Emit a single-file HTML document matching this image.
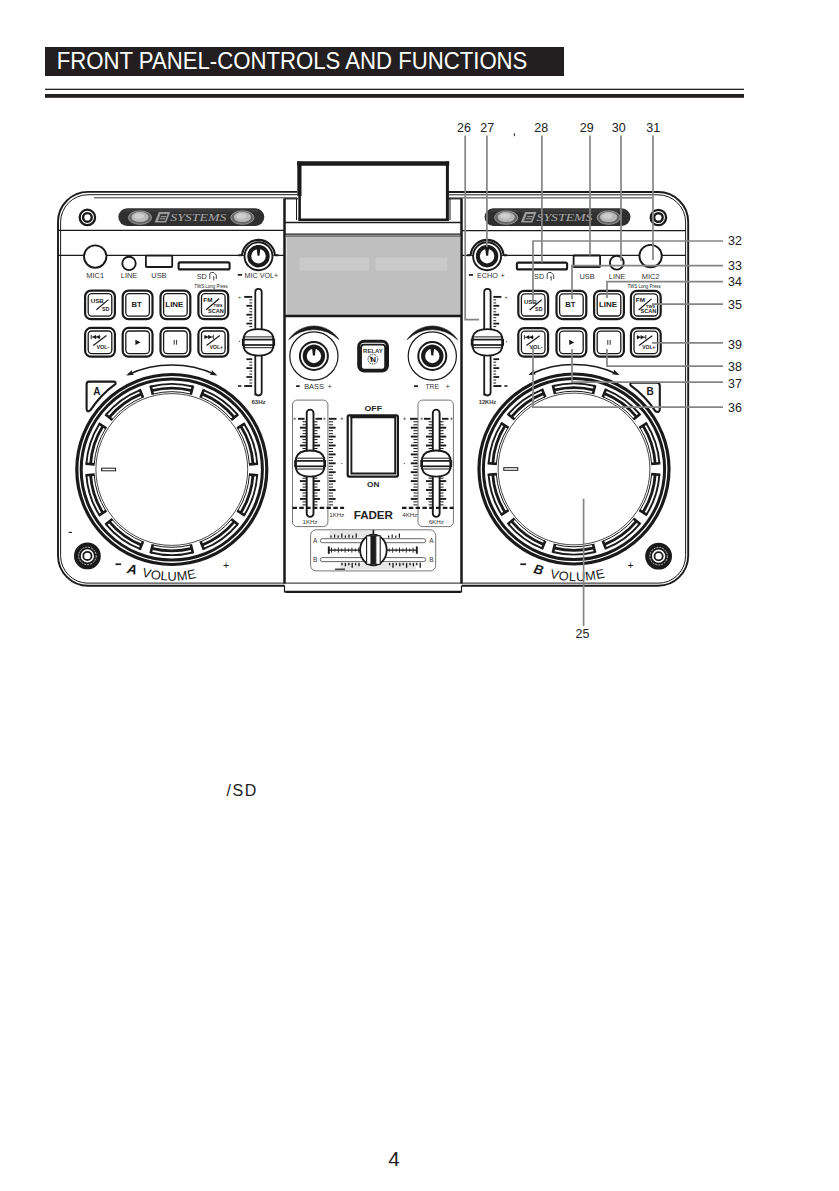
<!DOCTYPE html>
<html><head><meta charset="utf-8"><style>
html,body{margin:0;padding:0;background:#fff;}
svg{display:block;font-family:"Liberation Sans",sans-serif;}
</style></head><body>
<svg width="839" height="1191" viewBox="0 0 839 1191">
<rect x="0" y="0" width="839" height="1191" fill="#fff"/>
<rect x="45" y="47" width="519" height="29" fill="#231f20"/>
<text x="56.8" y="69.2" font-family="Liberation Sans" font-size="23.4" font-weight="normal" font-style="normal" text-anchor="start" fill="#fff" textLength="470.6" lengthAdjust="spacingAndGlyphs">FRONT PANEL-CONTROLS AND FUNCTIONS</text>
<rect x="45" y="88.7" width="699" height="1.3" fill="#231f20"/>
<rect x="45" y="94" width="699" height="3.8" fill="#231f20"/>
<path d="M297 191.9 H88 A30 30 0 0 0 58 222 V555.5 A30.3 30.3 0 0 0 88 585.8 H284.5" fill="none" stroke="#1a1a1a" stroke-width="1.9"/>
<path d="M297 194.7 H88 A27.5 27.5 0 0 0 60.6 222 V555.5 A27.5 27.5 0 0 0 88 583.2" fill="none" stroke="#1a1a1a" stroke-width="1.0"/>
<line x1="94" y1="197.8" x2="297" y2="197.8" stroke="#1a1a1a" stroke-width="0.9" />
<path d="M448 192 H658 A30 30 0 0 1 688.2 222 V555.5 A30.3 30.3 0 0 1 658 585.8 H462" fill="none" stroke="#1a1a1a" stroke-width="1.9"/>
<path d="M448 194.8 H658 A27.5 27.5 0 0 1 685.6 222 V555.5 A27.5 27.5 0 0 1 658 583.2" fill="none" stroke="#1a1a1a" stroke-width="1.0"/>
<line x1="448" y1="197.9" x2="652" y2="197.9" stroke="#1a1a1a" stroke-width="0.9" />
<line x1="58" y1="230.4" x2="284.5" y2="230.4" stroke="#1a1a1a" stroke-width="1.3" />
<line x1="58" y1="255.4" x2="284.5" y2="255.4" stroke="#1a1a1a" stroke-width="1.3" />
<line x1="462" y1="230.6" x2="686" y2="230.6" stroke="#1a1a1a" stroke-width="1.3" />
<line x1="462" y1="255.4" x2="686" y2="255.4" stroke="#1a1a1a" stroke-width="1.3" />
<rect x="299" y="162" width="149" height="58" fill="#fff"/>
<line x1="297.2" y1="163.5" x2="449.2" y2="163.5" stroke="#1a1a1a" stroke-width="4.3" />
<line x1="299.4" y1="161.6" x2="299.4" y2="196" stroke="#1a1a1a" stroke-width="4.2" />
<line x1="299.6" y1="195" x2="299.6" y2="220.5" stroke="#1a1a1a" stroke-width="2.6" />
<line x1="447.4" y1="161.6" x2="447.4" y2="220.5" stroke="#1a1a1a" stroke-width="3.0" />
<line x1="298.5" y1="219.8" x2="448.8" y2="219.8" stroke="#1a1a1a" stroke-width="2.6" />
<path d="M284.5 198.6 V583.5 M461.5 198.6 V583.5" fill="none" stroke="#1a1a1a" stroke-width="2.5"/>
<path d="M284.5 585.5 V591.8 H461.5 V585.5" fill="none" stroke="#1a1a1a" stroke-width="1.2"/>
<line x1="285.5" y1="591.8" x2="460.8" y2="591.8" stroke="#1a1a1a" stroke-width="2.3" />
<line x1="88" y1="583.1" x2="658" y2="583.1" stroke="#1a1a1a" stroke-width="1.0" />
<line x1="284.5" y1="198.8" x2="298" y2="198.8" stroke="#1a1a1a" stroke-width="1.2" />
<line x1="448" y1="198.8" x2="462" y2="198.8" stroke="#1a1a1a" stroke-width="1.2" />
<line x1="296.5" y1="198.8" x2="296.5" y2="220" stroke="#1a1a1a" stroke-width="1.0" />
<line x1="450" y1="198.8" x2="450" y2="220" stroke="#1a1a1a" stroke-width="1.0" />
<line x1="284.5" y1="222.5" x2="462" y2="222.5" stroke="#1a1a1a" stroke-width="1.3" />
<line x1="284.5" y1="234.2" x2="462" y2="234.2" stroke="#1a1a1a" stroke-width="1.3" />
<rect x="286.5" y="236.5" width="173.7" height="78.5" fill="#c0bfbf"/>
<rect x="299.5" y="257.6" width="69.5" height="13" fill="#cbcaca"/>
<rect x="375.6" y="257.6" width="71.6" height="13" fill="#cbcaca"/>
<line x1="284.5" y1="316" x2="462" y2="316" stroke="#1a1a1a" stroke-width="2.4" />
<line x1="286" y1="236" x2="460.5" y2="236" stroke="#1a1a1a" stroke-width="1.0" />
<rect x="118.3" y="208.3" width="146" height="17.6" rx="8.8" fill="#2f2f2f"/>
<rect x="124.3" y="209.3" width="134" height="3" rx="1.5" fill="#3a3a3a"/>
<ellipse cx="140.0" cy="217.60000000000002" rx="11.6" ry="6.7" fill="#666" stroke="#9c9c9c" stroke-width="0.9"/>
<ellipse cx="140.0" cy="217.10000000000002" rx="8.6" ry="5.0" fill="#b8b8b8"/>
<ellipse cx="139.0" cy="216.10000000000002" rx="5" ry="2.6" fill="#cfcfcf"/>
<ellipse cx="242.4" cy="217.60000000000002" rx="11.6" ry="6.7" fill="#666" stroke="#9c9c9c" stroke-width="0.9"/>
<ellipse cx="242.4" cy="217.10000000000002" rx="8.6" ry="5.0" fill="#b8b8b8"/>
<ellipse cx="241.4" cy="216.10000000000002" rx="5" ry="2.6" fill="#cfcfcf"/>
<path d="M154.6 222.60000000000002 L158.8 212.10000000000002 H170.3 L166.1 222.60000000000002 Z" fill="#9a9a9a"/>
<path d="M157.9 220.9 L160.5 213.9 H167.6 L165.0 220.9 Z" fill="#3a3a3a"/>
<path d="M160.9 216.5 H166.3 M159.9 218.70000000000002 H165.3" stroke="#9a9a9a" stroke-width="1"/>
<text x="170.3" y="221.0" font-family="Liberation Serif" font-size="9.8" font-style="italic" fill="#a8a8a8" textLength="56" lengthAdjust="spacingAndGlyphs">SYSTEMS</text>
<circle cx="87.4" cy="217.4" r="7.7" fill="none" stroke="#1a1a1a" stroke-width="2.3"/>
<circle cx="87.4" cy="217.4" r="4.3" fill="none" stroke="#1a1a1a" stroke-width="2.4"/>
<circle cx="95.2" cy="256.6" r="11.2" fill="#fff" stroke="#1a1a1a" stroke-width="1.9"/>
<circle cx="129" cy="263.4" r="6.7" fill="#fff" stroke="#1a1a1a" stroke-width="1.9"/>
<rect x="145.9" y="255.6" width="26.3" height="11.4" rx="0.8" fill="#fff" stroke="#1a1a1a" stroke-width="1.8" />
<rect x="178.6" y="262.4" width="51" height="7.0" rx="1.5" fill="#fff" stroke="#1a1a1a" stroke-width="2.1" />
<path d="M238.5 255.2 H241.5 Q242.1 255.2 242.3 253.7 A16.4 16.4 0 0 1 274.7 253.7 Q274.9 255.2 275.5 255.2 H278.5" fill="#fff" stroke="#1a1a1a" stroke-width="2.1"/>
<circle cx="258.5" cy="256.2" r="14" fill="#fff" stroke="#1a1a1a" stroke-width="1.9"/>
<circle cx="258.5" cy="256.2" r="9.2" fill="none" stroke="#1a1a1a" stroke-width="4.0"/>
<path d="M256.2 244.89999999999998 H260.8 L259.5 255.7 H257.5 Z" fill="#1a1a1a"/>
<text x="95.2" y="278" font-family="Liberation Sans" font-size="7.4" font-weight="normal" font-style="normal" text-anchor="middle" fill="#333" >MIC1</text>
<text x="129" y="278" font-family="Liberation Sans" font-size="7.4" font-weight="normal" font-style="normal" text-anchor="middle" fill="#333" >LINE</text>
<text x="158.9" y="278" font-family="Liberation Sans" font-size="7.4" font-weight="normal" font-style="normal" text-anchor="middle" fill="#333" >USB</text>
<text x="196.7" y="278.9" font-family="Liberation Sans" font-size="7.2" font-weight="normal" font-style="normal" text-anchor="start" fill="#333" textLength="10.1" lengthAdjust="spacingAndGlyphs">SD</text>
<path d="M209.8 279 V273.5 L211.3 272.5 H213.8 L216.3 275 V279 M212.8 277.3 L213.8 276.6 V280.5" fill="none" stroke="#333" stroke-width="0.9"/>
<rect x="237.8" y="274" width="4.2" height="1.7" fill="#1a1a1a"/>
<text x="244.5" y="277.8" font-family="Liberation Sans" font-size="7.2" font-weight="normal" font-style="normal" text-anchor="start" fill="#333" textLength="33.8" lengthAdjust="spacingAndGlyphs">MIC VOL+</text>
<text x="194.3" y="287.6" font-family="Liberation Sans" font-size="4.5" font-weight="normal" font-style="normal" text-anchor="start" fill="#222" textLength="33.5" lengthAdjust="spacingAndGlyphs">TWS Long Press</text>
<rect x="85.1" y="290.6" width="29.8" height="28.6" rx="6" fill="#fff" stroke="#1a1a1a" stroke-width="2.2" />
<rect x="88.2" y="293.7" width="23.6" height="22.4" rx="3.5" fill="none" stroke="#1a1a1a" stroke-width="1.3" />
<text x="90.8" y="303.4" font-family="Liberation Sans" font-size="5.8" font-weight="bold" font-style="normal" text-anchor="start" fill="#222" textLength="13" lengthAdjust="spacingAndGlyphs">USB</text>
<line x1="96.4" y1="309.8" x2="108.4" y2="299.6" stroke="#1a1a1a" stroke-width="1.2" />
<text x="101.9" y="310.8" font-family="Liberation Sans" font-size="5.8" font-weight="bold" font-style="normal" text-anchor="start" fill="#222" textLength="7.4" lengthAdjust="spacingAndGlyphs">SD</text>
<rect x="122.69999999999999" y="290.6" width="29.8" height="28.6" rx="6" fill="#fff" stroke="#1a1a1a" stroke-width="2.2" />
<rect x="125.8" y="293.7" width="23.6" height="22.4" rx="3.5" fill="none" stroke="#1a1a1a" stroke-width="1.3" />
<text x="131.4" y="307.1" font-family="Liberation Sans" font-size="6.4" font-weight="bold" font-style="normal" text-anchor="start" fill="#222" textLength="10.2" lengthAdjust="spacingAndGlyphs">BT</text>
<rect x="160.5" y="290.6" width="29.8" height="28.6" rx="6" fill="#fff" stroke="#1a1a1a" stroke-width="2.2" />
<rect x="163.6" y="293.7" width="23.6" height="22.4" rx="3.5" fill="none" stroke="#1a1a1a" stroke-width="1.3" />
<text x="165.3" y="307.1" font-family="Liberation Sans" font-size="6.4" font-weight="bold" font-style="normal" text-anchor="start" fill="#222" textLength="18.1" lengthAdjust="spacingAndGlyphs">LINE</text>
<rect x="198.4" y="290.6" width="29.8" height="28.6" rx="6" fill="#fff" stroke="#1a1a1a" stroke-width="2.2" />
<rect x="201.5" y="293.7" width="23.6" height="22.4" rx="3.5" fill="none" stroke="#1a1a1a" stroke-width="1.3" />
<text x="203.3" y="301.5" font-family="Liberation Sans" font-size="5.8" font-weight="bold" font-style="normal" text-anchor="start" fill="#222" textLength="9.2" lengthAdjust="spacingAndGlyphs">FM</text>
<line x1="206.10000000000002" y1="309.8" x2="219.10000000000002" y2="298.7" stroke="#1a1a1a" stroke-width="1.2" />
<text x="213.5" y="307.4" font-family="Liberation Sans" font-size="3.9" font-weight="bold" font-style="normal" text-anchor="start" fill="#222" textLength="9" lengthAdjust="spacingAndGlyphs">TWS</text>
<text x="208.0" y="312.6" font-family="Liberation Sans" font-size="4.8" font-weight="bold" font-style="normal" text-anchor="start" fill="#222" textLength="15.7" lengthAdjust="spacingAndGlyphs">SCAN</text>
<rect x="85.1" y="327.90000000000003" width="29.8" height="28.8" rx="6" fill="#fff" stroke="#1a1a1a" stroke-width="2.2" />
<rect x="88.2" y="331.0" width="23.6" height="22.6" rx="3.5" fill="none" stroke="#1a1a1a" stroke-width="1.3" />
<path d="M91.2 334.8v4.4M91.6 337.0h9" stroke="#1a1a1a" stroke-width="0.9" fill="none"/>
<path d="M92.5 337.0l3.6 -2.2v4.4zM96.2 337.0l3.6 -2.2v4.4z" fill="#1a1a1a"/>
<line x1="93.2" y1="345.40000000000003" x2="106.5" y2="335.6" stroke="#1a1a1a" stroke-width="1.2" />
<text x="96.4" y="348.7" font-family="Liberation Sans" font-size="4.6" font-weight="bold" font-style="normal" text-anchor="start" fill="#222" textLength="12.9" lengthAdjust="spacingAndGlyphs">VOL-</text>
<rect x="122.69999999999999" y="327.90000000000003" width="29.8" height="28.8" rx="6" fill="#fff" stroke="#1a1a1a" stroke-width="2.2" />
<rect x="125.8" y="331.0" width="23.6" height="22.6" rx="3.5" fill="none" stroke="#1a1a1a" stroke-width="1.3" />
<path d="M135.4 339.7l5.2 2.6 -5.2 2.6z" fill="#1a1a1a"/>
<rect x="160.5" y="327.90000000000003" width="29.8" height="28.8" rx="6" fill="#fff" stroke="#1a1a1a" stroke-width="2.2" />
<rect x="163.6" y="331.0" width="23.6" height="22.6" rx="3.5" fill="none" stroke="#1a1a1a" stroke-width="1.3" />
<path d="M174.20000000000002 339.90000000000003v4.8M176.6 339.90000000000003v4.8" stroke="#1a1a1a" stroke-width="0.9"/>
<rect x="198.4" y="327.90000000000003" width="29.8" height="28.8" rx="6" fill="#fff" stroke="#1a1a1a" stroke-width="2.2" />
<rect x="201.5" y="331.0" width="23.6" height="22.6" rx="3.5" fill="none" stroke="#1a1a1a" stroke-width="1.3" />
<path d="M213.3 334.8v4.4M204.10000000000002 337.0h9" stroke="#1a1a1a" stroke-width="0.9" fill="none"/>
<path d="M204.5 334.8l3.6 2.2 -3.6 2.2zM208.20000000000002 334.8l3.6 2.2 -3.6 2.2z" fill="#1a1a1a"/>
<line x1="206.5" y1="345.40000000000003" x2="219.8" y2="335.6" stroke="#1a1a1a" stroke-width="1.2" />
<text x="209.70000000000002" y="348.7" font-family="Liberation Sans" font-size="4.6" font-weight="bold" font-style="normal" text-anchor="start" fill="#222" textLength="13.2" lengthAdjust="spacingAndGlyphs">VOL+</text>
<line x1="244.2" y1="296.9" x2="252.2" y2="296.9" stroke="#1a1a1a" stroke-width="1.9" />
<line x1="244.2" y1="386.0" x2="252.2" y2="386.0" stroke="#1a1a1a" stroke-width="1.9" />
<line x1="246.39999999999998" y1="305.79999999999995" x2="252.2" y2="305.79999999999995" stroke="#1a1a1a" stroke-width="1.8" />
<line x1="246.39999999999998" y1="314.7" x2="252.2" y2="314.7" stroke="#1a1a1a" stroke-width="1.8" />
<line x1="246.39999999999998" y1="323.59999999999997" x2="252.2" y2="323.59999999999997" stroke="#1a1a1a" stroke-width="1.8" />
<line x1="246.39999999999998" y1="359.2" x2="252.2" y2="359.2" stroke="#1a1a1a" stroke-width="1.8" />
<line x1="246.39999999999998" y1="368.09999999999997" x2="252.2" y2="368.09999999999997" stroke="#1a1a1a" stroke-width="1.8" />
<line x1="246.39999999999998" y1="377.0" x2="252.2" y2="377.0" stroke="#1a1a1a" stroke-width="1.8" />
<line x1="249.39999999999998" y1="299.9" x2="252.2" y2="299.9" stroke="#1a1a1a" stroke-width="1.0" />
<line x1="249.39999999999998" y1="302.9" x2="252.2" y2="302.9" stroke="#1a1a1a" stroke-width="1.0" />
<line x1="249.39999999999998" y1="308.79999999999995" x2="252.2" y2="308.79999999999995" stroke="#1a1a1a" stroke-width="1.0" />
<line x1="249.39999999999998" y1="311.79999999999995" x2="252.2" y2="311.79999999999995" stroke="#1a1a1a" stroke-width="1.0" />
<line x1="249.39999999999998" y1="317.7" x2="252.2" y2="317.7" stroke="#1a1a1a" stroke-width="1.0" />
<line x1="249.39999999999998" y1="320.7" x2="252.2" y2="320.7" stroke="#1a1a1a" stroke-width="1.0" />
<line x1="249.39999999999998" y1="326.59999999999997" x2="252.2" y2="326.59999999999997" stroke="#1a1a1a" stroke-width="1.0" />
<line x1="249.39999999999998" y1="362.2" x2="252.2" y2="362.2" stroke="#1a1a1a" stroke-width="1.0" />
<line x1="249.39999999999998" y1="365.2" x2="252.2" y2="365.2" stroke="#1a1a1a" stroke-width="1.0" />
<line x1="249.39999999999998" y1="371.09999999999997" x2="252.2" y2="371.09999999999997" stroke="#1a1a1a" stroke-width="1.0" />
<line x1="249.39999999999998" y1="374.09999999999997" x2="252.2" y2="374.09999999999997" stroke="#1a1a1a" stroke-width="1.0" />
<line x1="249.39999999999998" y1="380.0" x2="252.2" y2="380.0" stroke="#1a1a1a" stroke-width="1.0" />
<line x1="249.39999999999998" y1="383.0" x2="252.2" y2="383.0" stroke="#1a1a1a" stroke-width="1.0" />
<text x="239.7" y="299.2" font-family="Liberation Sans" font-size="5.5" font-weight="normal" font-style="normal" text-anchor="middle" fill="#444" >+</text>
<line x1="238.0" y1="386" x2="241.39999999999998" y2="386" stroke="#1a1a1a" stroke-width="1.6" />
<rect x="239.0" y="340.8" width="1" height="1" fill="#333"/>
<path d="M255.3 395.5 V292 A3.2 3.2 0 0 1 261.7 292 V392.3 A3.2 3.2 0 0 1 255.3 392.3 Z" fill="#fff" stroke="#1a1a1a" stroke-width="1.8"/>
<path d="M243.75 336.8 Q245.75 329.05 258.5 329.05 Q271.25 329.05 273.25 336.8 V347.8 Q271.25 355.55 258.5 355.55 Q245.75 355.55 243.75 347.8 Z" fill="#fff" stroke="#1a1a1a" stroke-width="1.8"/>
<rect x="242.75" y="339.6" width="31.5" height="5.4" fill="#fff" stroke="#1a1a1a" stroke-width="1.7"/>
<line x1="244.25" y1="336.90000000000003" x2="272.75" y2="336.90000000000003" stroke="#1a1a1a" stroke-width="1.0" />
<line x1="244.25" y1="347.7" x2="272.75" y2="347.7" stroke="#1a1a1a" stroke-width="1.0" />
<path d="M243.75 336.8 V347.8 M273.25 336.8 V347.8" stroke="#1a1a1a" stroke-width="1.8"/>
<text x="251.45" y="403.9" font-family="Liberation Sans" font-size="5.9" font-weight="bold" font-style="normal" text-anchor="start" fill="#333" textLength="14.1" lengthAdjust="spacingAndGlyphs">63Hz</text>
<path d="M89 381.6 H113.5 Q116.5 381.6 115.3 384.2 A100 100 0 0 0 90.5 410.2 Q86.8 413 86.6 409 V384.6 Q86.6 381.6 89 381.6 Z" fill="#fff" stroke="#1a1a1a" stroke-width="2.1" stroke-linejoin="round"/>
<text x="96.9" y="394.6" font-family="Liberation Sans" font-size="10" font-weight="bold" font-style="normal" text-anchor="middle" fill="#1a1a1a" >A</text>
<path d="M128.46 374.41 A104.5 104.5 0 0 1 215.14 374.41" fill="none" stroke="#1a1a1a" stroke-width="1.7"/>
<path d="M126.19 375.45 L131.94 369.97 L131.65 372.96 L134.09 374.70 Z" fill="#1a1a1a"/>
<path d="M217.41 375.45 L209.51 374.70 L211.95 372.96 L211.66 369.97 Z" fill="#1a1a1a"/>
<circle cx="171.8" cy="469.5" r="95.0" fill="none" stroke="#1a1a1a" stroke-width="3.2"/>
<circle cx="171.8" cy="469.5" r="90.6" fill="none" stroke="#1a1a1a" stroke-width="3.0"/>
<circle cx="171.8" cy="469.5" r="75.9" fill="none" stroke="#1a1a1a" stroke-width="0.8"/>
<path d="M192.80 386.52 A85.6 85.6 0 0 0 150.80 386.52" fill="none" stroke="#1a1a1a" stroke-width="1.9"/>
<path d="M152.72 394.08 A77.8 77.8 0 0 1 190.88 394.08" fill="none" stroke="#1a1a1a" stroke-width="1.0"/>
<path d="M193.02 385.64 L190.76 394.56 M150.58 385.64 L152.84 394.56" stroke="#1a1a1a" stroke-width="2.6"/>
<path d="M191.77 390.59 A81.4 81.4 0 0 0 151.83 390.59" fill="none" stroke="#1a1a1a" stroke-width="2.8"/>
<path d="M140.01 390.02 A85.6 85.6 0 0 0 106.03 414.71" fill="none" stroke="#1a1a1a" stroke-width="1.9"/>
<path d="M112.03 419.70 A77.8 77.8 0 0 1 142.91 397.26" fill="none" stroke="#1a1a1a" stroke-width="1.0"/>
<path d="M139.68 389.19 L143.09 397.73 M105.34 414.13 L112.41 420.02" stroke="#1a1a1a" stroke-width="2.6"/>
<path d="M141.57 393.92 A81.4 81.4 0 0 0 109.26 417.40" fill="none" stroke="#1a1a1a" stroke-width="2.8"/>
<path d="M99.37 423.89 A85.6 85.6 0 0 0 86.39 463.83" fill="none" stroke="#1a1a1a" stroke-width="1.9"/>
<path d="M94.17 464.34 A77.8 77.8 0 0 1 105.97 428.04" fill="none" stroke="#1a1a1a" stroke-width="1.0"/>
<path d="M98.60 423.41 L106.39 428.31 M85.49 463.77 L94.67 464.38" stroke="#1a1a1a" stroke-width="2.6"/>
<path d="M102.92 426.12 A81.4 81.4 0 0 0 90.58 464.11" fill="none" stroke="#1a1a1a" stroke-width="2.8"/>
<path d="M86.39 475.17 A85.6 85.6 0 0 0 99.37 515.11" fill="none" stroke="#1a1a1a" stroke-width="1.9"/>
<path d="M105.97 510.96 A77.8 77.8 0 0 1 94.17 474.66" fill="none" stroke="#1a1a1a" stroke-width="1.0"/>
<path d="M85.49 475.23 L94.67 474.62 M98.60 515.59 L106.39 510.69" stroke="#1a1a1a" stroke-width="2.6"/>
<path d="M90.58 474.89 A81.4 81.4 0 0 0 102.92 512.88" fill="none" stroke="#1a1a1a" stroke-width="2.8"/>
<path d="M106.03 524.29 A85.6 85.6 0 0 0 140.01 548.98" fill="none" stroke="#1a1a1a" stroke-width="1.9"/>
<path d="M142.91 541.74 A77.8 77.8 0 0 1 112.03 519.30" fill="none" stroke="#1a1a1a" stroke-width="1.0"/>
<path d="M105.34 524.87 L112.41 518.98 M139.68 549.81 L143.09 541.27" stroke="#1a1a1a" stroke-width="2.6"/>
<path d="M109.26 521.60 A81.4 81.4 0 0 0 141.57 545.08" fill="none" stroke="#1a1a1a" stroke-width="2.8"/>
<path d="M150.80 552.48 A85.6 85.6 0 0 0 192.80 552.48" fill="none" stroke="#1a1a1a" stroke-width="1.9"/>
<path d="M190.88 544.92 A77.8 77.8 0 0 1 152.72 544.92" fill="none" stroke="#1a1a1a" stroke-width="1.0"/>
<path d="M150.58 553.36 L152.84 544.44 M193.02 553.36 L190.76 544.44" stroke="#1a1a1a" stroke-width="2.6"/>
<path d="M151.83 548.41 A81.4 81.4 0 0 0 191.77 548.41" fill="none" stroke="#1a1a1a" stroke-width="2.8"/>
<path d="M203.59 548.98 A85.6 85.6 0 0 0 237.57 524.29" fill="none" stroke="#1a1a1a" stroke-width="1.9"/>
<path d="M231.57 519.30 A77.8 77.8 0 0 1 200.69 541.74" fill="none" stroke="#1a1a1a" stroke-width="1.0"/>
<path d="M203.92 549.81 L200.51 541.27 M238.26 524.87 L231.19 518.98" stroke="#1a1a1a" stroke-width="2.6"/>
<path d="M202.03 545.08 A81.4 81.4 0 0 0 234.34 521.60" fill="none" stroke="#1a1a1a" stroke-width="2.8"/>
<path d="M244.23 515.11 A85.6 85.6 0 0 0 257.21 475.17" fill="none" stroke="#1a1a1a" stroke-width="1.9"/>
<path d="M249.43 474.66 A77.8 77.8 0 0 1 237.63 510.96" fill="none" stroke="#1a1a1a" stroke-width="1.0"/>
<path d="M245.00 515.59 L237.21 510.69 M258.11 475.23 L248.93 474.62" stroke="#1a1a1a" stroke-width="2.6"/>
<path d="M240.68 512.88 A81.4 81.4 0 0 0 253.02 474.89" fill="none" stroke="#1a1a1a" stroke-width="2.8"/>
<path d="M257.21 463.83 A85.6 85.6 0 0 0 244.23 423.89" fill="none" stroke="#1a1a1a" stroke-width="1.9"/>
<path d="M237.63 428.04 A77.8 77.8 0 0 1 249.43 464.34" fill="none" stroke="#1a1a1a" stroke-width="1.0"/>
<path d="M258.11 463.77 L248.93 464.38 M245.00 423.41 L237.21 428.31" stroke="#1a1a1a" stroke-width="2.6"/>
<path d="M253.02 464.11 A81.4 81.4 0 0 0 240.68 426.12" fill="none" stroke="#1a1a1a" stroke-width="2.8"/>
<path d="M237.57 414.71 A85.6 85.6 0 0 0 203.59 390.02" fill="none" stroke="#1a1a1a" stroke-width="1.9"/>
<path d="M200.69 397.26 A77.8 77.8 0 0 1 231.57 419.70" fill="none" stroke="#1a1a1a" stroke-width="1.0"/>
<path d="M238.26 414.13 L231.19 420.02 M203.92 389.19 L200.51 397.73" stroke="#1a1a1a" stroke-width="2.6"/>
<path d="M234.34 417.40 A81.4 81.4 0 0 0 202.03 393.92" fill="none" stroke="#1a1a1a" stroke-width="2.8"/>
<rect x="101.60000000000001" y="468.2" width="14" height="2.6" rx="0" fill="none" stroke="#1a1a1a" stroke-width="1.0" />
<circle cx="87.4" cy="555.9" r="10.0" fill="none" stroke="#1a1a1a" stroke-width="6.8"/>
<circle cx="87.4" cy="555.9" r="8.8" fill="none" stroke="#fff" stroke-width="0.7" stroke-dasharray="2 1"/>
<circle cx="87.4" cy="555.9" r="4.1" fill="none" stroke="#1a1a1a" stroke-width="1.8"/>
<rect x="115.5" y="563.4" width="5.6" height="1.7" fill="#1a1a1a"/>
<text x="0" y="0" transform="translate(131.3 573.8) rotate(10)" font-family="Liberation Sans" font-size="13.6" font-weight="bold" font-style="italic" text-anchor="middle" fill="#1a1a1a">A</text>
<text x="0" y="0" transform="translate(145.58 577.24) rotate(14.66)" font-family="Liberation Sans" font-size="12.8" font-weight="normal" font-style="normal" text-anchor="middle" fill="#1a1a1a">V</text>
<text x="0" y="0" transform="translate(155.08 579.28) rotate(9.45)" font-family="Liberation Sans" font-size="12.8" font-weight="normal" font-style="normal" text-anchor="middle" fill="#1a1a1a">O</text>
<text x="0" y="0" transform="translate(163.84 580.35) rotate(4.51)" font-family="Liberation Sans" font-size="12.8" font-weight="normal" font-style="normal" text-anchor="middle" fill="#1a1a1a">L</text>
<text x="0" y="0" transform="translate(172.24 580.66) rotate(-0.28)" font-family="Liberation Sans" font-size="12.8" font-weight="normal" font-style="normal" text-anchor="middle" fill="#1a1a1a">U</text>
<text x="0" y="0" transform="translate(182.46 580.09) rotate(-6.07)" font-family="Liberation Sans" font-size="12.8" font-weight="normal" font-style="normal" text-anchor="middle" fill="#1a1a1a">M</text>
<text x="0" y="0" transform="translate(192.32 578.56) rotate(-11.52)" font-family="Liberation Sans" font-size="12.8" font-weight="normal" font-style="normal" text-anchor="middle" fill="#1a1a1a">E</text>
<text x="226" y="568.6" font-family="Liberation Sans" font-size="10.5" font-weight="normal" font-style="normal" text-anchor="middle" fill="#1a1a1a" >+</text>
<path d="M288.74 339.66 A30 30 0 0 1 339.06 339.66 A36.5 36.5 0 0 0 288.74 339.66 Z" fill="#1a1a1a" stroke="#1a1a1a" stroke-width="0.6"/>
<circle cx="313.9" cy="356" r="24.1" fill="#fff" stroke="#1a1a1a" stroke-width="1.2"/>
<circle cx="313.9" cy="356" r="14" fill="#fff" stroke="#1a1a1a" stroke-width="2.0"/>
<circle cx="313.9" cy="356" r="9.2" fill="none" stroke="#1a1a1a" stroke-width="4.0"/>
<path d="M311.59999999999997 344.7 H316.2 L314.9 355.5 H312.9 Z" fill="#1a1a1a"/>
<path d="M407.14 339.66 A30 30 0 0 1 457.46 339.66 A36.5 36.5 0 0 0 407.14 339.66 Z" fill="#1a1a1a" stroke="#1a1a1a" stroke-width="0.6"/>
<circle cx="432.3" cy="356" r="24.1" fill="#fff" stroke="#1a1a1a" stroke-width="1.2"/>
<circle cx="432.3" cy="356" r="14" fill="#fff" stroke="#1a1a1a" stroke-width="2.0"/>
<circle cx="432.3" cy="356" r="9.2" fill="none" stroke="#1a1a1a" stroke-width="4.0"/>
<path d="M430.0 344.7 H434.6 L433.3 355.5 H431.3 Z" fill="#1a1a1a"/>
<rect x="296.1" y="385.3" width="3.6" height="1.7" fill="#1a1a1a"/>
<text x="304.2" y="388.7" font-family="Liberation Sans" font-size="7.4" font-weight="normal" font-style="normal" text-anchor="start" fill="#333" textLength="19.6" lengthAdjust="spacingAndGlyphs">BASS</text>
<text x="329.6" y="388.9" font-family="Liberation Sans" font-size="7.6" font-weight="normal" font-style="normal" text-anchor="middle" fill="#333" >+</text>
<rect x="414" y="385.3" width="4" height="1.7" fill="#1a1a1a"/>
<text x="425.4" y="388.7" font-family="Liberation Sans" font-size="7.4" font-weight="normal" font-style="normal" text-anchor="start" fill="#333" textLength="13.6" lengthAdjust="spacingAndGlyphs">TRE</text>
<text x="447.8" y="388.9" font-family="Liberation Sans" font-size="7.6" font-weight="normal" font-style="normal" text-anchor="middle" fill="#333" >+</text>
<rect x="358.7" y="341.3" width="28.8" height="29.8" rx="5.5" fill="#fff" stroke="#1a1a1a" stroke-width="3.0" />
<rect x="361" y="344.6" width="24.2" height="25.2" rx="3" fill="none" stroke="#1a1a1a" stroke-width="1.9" />
<text x="363.1" y="352.7" font-family="Liberation Sans" font-size="5.6" font-weight="bold" font-style="normal" text-anchor="start" fill="#333" textLength="19.7" lengthAdjust="spacingAndGlyphs">RELAY</text>
<circle cx="372.9" cy="359.2" r="4.9" fill="none" stroke="#333" stroke-width="0.9" stroke-dasharray="1.6 0.8"/>
<text x="373.1" y="362.2" font-family="Liberation Sans" font-size="8" font-weight="bold" font-style="normal" text-anchor="middle" fill="#222" >N</text>
<line x1="369.8" y1="356.2" x2="372.5" y2="361.5" stroke="#1a1a1a" stroke-width="0.8" />
<rect x="292.5" y="400.1" width="35.4" height="126.5" rx="4.5" fill="none" stroke="#666" stroke-width="0.9" />
<line x1="302.5" y1="421.8" x2="306.70000000000005" y2="421.8" stroke="#1a1a1a" stroke-width="1.0" />
<line x1="313.5" y1="421.8" x2="317.5" y2="421.8" stroke="#1a1a1a" stroke-width="1.0" />
<line x1="302.5" y1="424.8" x2="306.70000000000005" y2="424.8" stroke="#1a1a1a" stroke-width="1.0" />
<line x1="313.5" y1="424.8" x2="317.5" y2="424.8" stroke="#1a1a1a" stroke-width="1.0" />
<line x1="328.8" y1="421.8" x2="333.0" y2="421.8" stroke="#1a1a1a" stroke-width="1.0" />
<line x1="328.8" y1="424.8" x2="333.0" y2="424.8" stroke="#1a1a1a" stroke-width="1.0" />
<line x1="299.90000000000003" y1="427.7" x2="306.70000000000005" y2="427.7" stroke="#1a1a1a" stroke-width="1.9" />
<line x1="313.5" y1="427.7" x2="320.1" y2="427.7" stroke="#1a1a1a" stroke-width="1.9" />
<line x1="302.5" y1="430.7" x2="306.70000000000005" y2="430.7" stroke="#1a1a1a" stroke-width="1.0" />
<line x1="313.5" y1="430.7" x2="317.5" y2="430.7" stroke="#1a1a1a" stroke-width="1.0" />
<line x1="302.5" y1="433.7" x2="306.70000000000005" y2="433.7" stroke="#1a1a1a" stroke-width="1.0" />
<line x1="313.5" y1="433.7" x2="317.5" y2="433.7" stroke="#1a1a1a" stroke-width="1.0" />
<line x1="328.8" y1="427.7" x2="335.6" y2="427.7" stroke="#1a1a1a" stroke-width="1.9" />
<line x1="328.8" y1="430.7" x2="333.0" y2="430.7" stroke="#1a1a1a" stroke-width="1.0" />
<line x1="328.8" y1="433.7" x2="333.0" y2="433.7" stroke="#1a1a1a" stroke-width="1.0" />
<line x1="299.90000000000003" y1="436.6" x2="306.70000000000005" y2="436.6" stroke="#1a1a1a" stroke-width="1.9" />
<line x1="313.5" y1="436.6" x2="320.1" y2="436.6" stroke="#1a1a1a" stroke-width="1.9" />
<line x1="302.5" y1="439.6" x2="306.70000000000005" y2="439.6" stroke="#1a1a1a" stroke-width="1.0" />
<line x1="313.5" y1="439.6" x2="317.5" y2="439.6" stroke="#1a1a1a" stroke-width="1.0" />
<line x1="302.5" y1="442.6" x2="306.70000000000005" y2="442.6" stroke="#1a1a1a" stroke-width="1.0" />
<line x1="313.5" y1="442.6" x2="317.5" y2="442.6" stroke="#1a1a1a" stroke-width="1.0" />
<line x1="328.8" y1="436.6" x2="335.6" y2="436.6" stroke="#1a1a1a" stroke-width="1.9" />
<line x1="328.8" y1="439.6" x2="333.0" y2="439.6" stroke="#1a1a1a" stroke-width="1.0" />
<line x1="328.8" y1="442.6" x2="333.0" y2="442.6" stroke="#1a1a1a" stroke-width="1.0" />
<line x1="299.90000000000003" y1="445.5" x2="306.70000000000005" y2="445.5" stroke="#1a1a1a" stroke-width="1.9" />
<line x1="313.5" y1="445.5" x2="320.1" y2="445.5" stroke="#1a1a1a" stroke-width="1.9" />
<line x1="302.5" y1="448.5" x2="306.70000000000005" y2="448.5" stroke="#1a1a1a" stroke-width="1.0" />
<line x1="313.5" y1="448.5" x2="317.5" y2="448.5" stroke="#1a1a1a" stroke-width="1.0" />
<line x1="302.5" y1="451.5" x2="306.70000000000005" y2="451.5" stroke="#1a1a1a" stroke-width="1.0" />
<line x1="313.5" y1="451.5" x2="317.5" y2="451.5" stroke="#1a1a1a" stroke-width="1.0" />
<line x1="328.8" y1="445.5" x2="335.6" y2="445.5" stroke="#1a1a1a" stroke-width="1.9" />
<line x1="328.8" y1="448.5" x2="333.0" y2="448.5" stroke="#1a1a1a" stroke-width="1.0" />
<line x1="328.8" y1="451.5" x2="333.0" y2="451.5" stroke="#1a1a1a" stroke-width="1.0" />
<line x1="299.90000000000003" y1="454.40000000000003" x2="306.70000000000005" y2="454.40000000000003" stroke="#1a1a1a" stroke-width="1.9" />
<line x1="313.5" y1="454.40000000000003" x2="320.1" y2="454.40000000000003" stroke="#1a1a1a" stroke-width="1.9" />
<line x1="302.5" y1="457.40000000000003" x2="306.70000000000005" y2="457.40000000000003" stroke="#1a1a1a" stroke-width="1.0" />
<line x1="313.5" y1="457.40000000000003" x2="317.5" y2="457.40000000000003" stroke="#1a1a1a" stroke-width="1.0" />
<line x1="302.5" y1="460.40000000000003" x2="306.70000000000005" y2="460.40000000000003" stroke="#1a1a1a" stroke-width="1.0" />
<line x1="313.5" y1="460.40000000000003" x2="317.5" y2="460.40000000000003" stroke="#1a1a1a" stroke-width="1.0" />
<line x1="328.8" y1="454.40000000000003" x2="335.6" y2="454.40000000000003" stroke="#1a1a1a" stroke-width="1.9" />
<line x1="328.8" y1="457.40000000000003" x2="333.0" y2="457.40000000000003" stroke="#1a1a1a" stroke-width="1.0" />
<line x1="328.8" y1="460.40000000000003" x2="333.0" y2="460.40000000000003" stroke="#1a1a1a" stroke-width="1.0" />
<line x1="299.90000000000003" y1="463.3" x2="306.70000000000005" y2="463.3" stroke="#1a1a1a" stroke-width="1.9" />
<line x1="313.5" y1="463.3" x2="320.1" y2="463.3" stroke="#1a1a1a" stroke-width="1.9" />
<line x1="302.5" y1="466.3" x2="306.70000000000005" y2="466.3" stroke="#1a1a1a" stroke-width="1.0" />
<line x1="313.5" y1="466.3" x2="317.5" y2="466.3" stroke="#1a1a1a" stroke-width="1.0" />
<line x1="302.5" y1="469.3" x2="306.70000000000005" y2="469.3" stroke="#1a1a1a" stroke-width="1.0" />
<line x1="313.5" y1="469.3" x2="317.5" y2="469.3" stroke="#1a1a1a" stroke-width="1.0" />
<line x1="328.8" y1="463.3" x2="335.6" y2="463.3" stroke="#1a1a1a" stroke-width="1.9" />
<line x1="328.8" y1="466.3" x2="333.0" y2="466.3" stroke="#1a1a1a" stroke-width="1.0" />
<line x1="328.8" y1="469.3" x2="333.0" y2="469.3" stroke="#1a1a1a" stroke-width="1.0" />
<line x1="299.90000000000003" y1="472.20000000000005" x2="306.70000000000005" y2="472.20000000000005" stroke="#1a1a1a" stroke-width="1.9" />
<line x1="313.5" y1="472.20000000000005" x2="320.1" y2="472.20000000000005" stroke="#1a1a1a" stroke-width="1.9" />
<line x1="302.5" y1="475.20000000000005" x2="306.70000000000005" y2="475.20000000000005" stroke="#1a1a1a" stroke-width="1.0" />
<line x1="313.5" y1="475.20000000000005" x2="317.5" y2="475.20000000000005" stroke="#1a1a1a" stroke-width="1.0" />
<line x1="302.5" y1="478.20000000000005" x2="306.70000000000005" y2="478.20000000000005" stroke="#1a1a1a" stroke-width="1.0" />
<line x1="313.5" y1="478.20000000000005" x2="317.5" y2="478.20000000000005" stroke="#1a1a1a" stroke-width="1.0" />
<line x1="328.8" y1="472.20000000000005" x2="335.6" y2="472.20000000000005" stroke="#1a1a1a" stroke-width="1.9" />
<line x1="328.8" y1="475.20000000000005" x2="333.0" y2="475.20000000000005" stroke="#1a1a1a" stroke-width="1.0" />
<line x1="328.8" y1="478.20000000000005" x2="333.0" y2="478.20000000000005" stroke="#1a1a1a" stroke-width="1.0" />
<line x1="299.90000000000003" y1="481.1" x2="306.70000000000005" y2="481.1" stroke="#1a1a1a" stroke-width="1.9" />
<line x1="313.5" y1="481.1" x2="320.1" y2="481.1" stroke="#1a1a1a" stroke-width="1.9" />
<line x1="302.5" y1="484.1" x2="306.70000000000005" y2="484.1" stroke="#1a1a1a" stroke-width="1.0" />
<line x1="313.5" y1="484.1" x2="317.5" y2="484.1" stroke="#1a1a1a" stroke-width="1.0" />
<line x1="302.5" y1="487.1" x2="306.70000000000005" y2="487.1" stroke="#1a1a1a" stroke-width="1.0" />
<line x1="313.5" y1="487.1" x2="317.5" y2="487.1" stroke="#1a1a1a" stroke-width="1.0" />
<line x1="328.8" y1="481.1" x2="335.6" y2="481.1" stroke="#1a1a1a" stroke-width="1.9" />
<line x1="328.8" y1="484.1" x2="333.0" y2="484.1" stroke="#1a1a1a" stroke-width="1.0" />
<line x1="328.8" y1="487.1" x2="333.0" y2="487.1" stroke="#1a1a1a" stroke-width="1.0" />
<line x1="299.90000000000003" y1="490.0" x2="306.70000000000005" y2="490.0" stroke="#1a1a1a" stroke-width="1.9" />
<line x1="313.5" y1="490.0" x2="320.1" y2="490.0" stroke="#1a1a1a" stroke-width="1.9" />
<line x1="302.5" y1="493.0" x2="306.70000000000005" y2="493.0" stroke="#1a1a1a" stroke-width="1.0" />
<line x1="313.5" y1="493.0" x2="317.5" y2="493.0" stroke="#1a1a1a" stroke-width="1.0" />
<line x1="302.5" y1="496.0" x2="306.70000000000005" y2="496.0" stroke="#1a1a1a" stroke-width="1.0" />
<line x1="313.5" y1="496.0" x2="317.5" y2="496.0" stroke="#1a1a1a" stroke-width="1.0" />
<line x1="328.8" y1="490.0" x2="335.6" y2="490.0" stroke="#1a1a1a" stroke-width="1.9" />
<line x1="328.8" y1="493.0" x2="333.0" y2="493.0" stroke="#1a1a1a" stroke-width="1.0" />
<line x1="328.8" y1="496.0" x2="333.0" y2="496.0" stroke="#1a1a1a" stroke-width="1.0" />
<line x1="299.90000000000003" y1="498.90000000000003" x2="306.70000000000005" y2="498.90000000000003" stroke="#1a1a1a" stroke-width="1.9" />
<line x1="313.5" y1="498.90000000000003" x2="320.1" y2="498.90000000000003" stroke="#1a1a1a" stroke-width="1.9" />
<line x1="302.5" y1="501.90000000000003" x2="306.70000000000005" y2="501.90000000000003" stroke="#1a1a1a" stroke-width="1.0" />
<line x1="313.5" y1="501.90000000000003" x2="317.5" y2="501.90000000000003" stroke="#1a1a1a" stroke-width="1.0" />
<line x1="302.5" y1="504.90000000000003" x2="306.70000000000005" y2="504.90000000000003" stroke="#1a1a1a" stroke-width="1.0" />
<line x1="313.5" y1="504.90000000000003" x2="317.5" y2="504.90000000000003" stroke="#1a1a1a" stroke-width="1.0" />
<line x1="328.8" y1="498.90000000000003" x2="335.6" y2="498.90000000000003" stroke="#1a1a1a" stroke-width="1.9" />
<line x1="328.8" y1="501.90000000000003" x2="333.0" y2="501.90000000000003" stroke="#1a1a1a" stroke-width="1.0" />
<line x1="328.8" y1="504.90000000000003" x2="333.0" y2="504.90000000000003" stroke="#1a1a1a" stroke-width="1.0" />
<path d="M306.70000000000005 513.5 V413 A3.4 3.4 0 0 1 313.5 413 V513.5 A3.4 3.4 0 0 1 306.70000000000005 513.5 Z" fill="#fff" stroke="#1a1a1a" stroke-width="1.9"/>
<path d="M296.0 458.1 Q298.0 450.5 310.1 450.5 Q322.20000000000005 450.5 324.20000000000005 458.1 V469.1 Q322.20000000000005 476.70000000000005 310.1 476.70000000000005 Q298.0 476.70000000000005 296.0 469.1 Z" fill="#fff" stroke="#1a1a1a" stroke-width="1.8"/>
<rect x="295.0" y="460.90000000000003" width="30.2" height="5.4" fill="#fff" stroke="#1a1a1a" stroke-width="1.7"/>
<line x1="296.5" y1="458.20000000000005" x2="323.70000000000005" y2="458.20000000000005" stroke="#1a1a1a" stroke-width="1.0" />
<line x1="296.5" y1="469.0" x2="323.70000000000005" y2="469.0" stroke="#1a1a1a" stroke-width="1.0" />
<path d="M296.0 458.1 V469.1 M324.20000000000005 458.1 V469.1" stroke="#1a1a1a" stroke-width="1.8"/>
<text x="310.1" y="523.6" font-family="Liberation Sans" font-size="6.2" font-weight="normal" font-style="normal" text-anchor="middle" fill="#333" >1KHz</text>
<rect x="418" y="400.1" width="35.4" height="126.5" rx="4.5" fill="none" stroke="#666" stroke-width="0.9" />
<line x1="428.59999999999997" y1="421.8" x2="432.8" y2="421.8" stroke="#1a1a1a" stroke-width="1.0" />
<line x1="439.59999999999997" y1="421.8" x2="443.59999999999997" y2="421.8" stroke="#1a1a1a" stroke-width="1.0" />
<line x1="428.59999999999997" y1="424.8" x2="432.8" y2="424.8" stroke="#1a1a1a" stroke-width="1.0" />
<line x1="439.59999999999997" y1="424.8" x2="443.59999999999997" y2="424.8" stroke="#1a1a1a" stroke-width="1.0" />
<line x1="413.40000000000003" y1="421.8" x2="417.6" y2="421.8" stroke="#1a1a1a" stroke-width="1.0" />
<line x1="413.40000000000003" y1="424.8" x2="417.6" y2="424.8" stroke="#1a1a1a" stroke-width="1.0" />
<line x1="426.0" y1="427.7" x2="432.8" y2="427.7" stroke="#1a1a1a" stroke-width="1.9" />
<line x1="439.59999999999997" y1="427.7" x2="446.2" y2="427.7" stroke="#1a1a1a" stroke-width="1.9" />
<line x1="428.59999999999997" y1="430.7" x2="432.8" y2="430.7" stroke="#1a1a1a" stroke-width="1.0" />
<line x1="439.59999999999997" y1="430.7" x2="443.59999999999997" y2="430.7" stroke="#1a1a1a" stroke-width="1.0" />
<line x1="428.59999999999997" y1="433.7" x2="432.8" y2="433.7" stroke="#1a1a1a" stroke-width="1.0" />
<line x1="439.59999999999997" y1="433.7" x2="443.59999999999997" y2="433.7" stroke="#1a1a1a" stroke-width="1.0" />
<line x1="410.8" y1="427.7" x2="417.6" y2="427.7" stroke="#1a1a1a" stroke-width="1.9" />
<line x1="413.40000000000003" y1="430.7" x2="417.6" y2="430.7" stroke="#1a1a1a" stroke-width="1.0" />
<line x1="413.40000000000003" y1="433.7" x2="417.6" y2="433.7" stroke="#1a1a1a" stroke-width="1.0" />
<line x1="426.0" y1="436.6" x2="432.8" y2="436.6" stroke="#1a1a1a" stroke-width="1.9" />
<line x1="439.59999999999997" y1="436.6" x2="446.2" y2="436.6" stroke="#1a1a1a" stroke-width="1.9" />
<line x1="428.59999999999997" y1="439.6" x2="432.8" y2="439.6" stroke="#1a1a1a" stroke-width="1.0" />
<line x1="439.59999999999997" y1="439.6" x2="443.59999999999997" y2="439.6" stroke="#1a1a1a" stroke-width="1.0" />
<line x1="428.59999999999997" y1="442.6" x2="432.8" y2="442.6" stroke="#1a1a1a" stroke-width="1.0" />
<line x1="439.59999999999997" y1="442.6" x2="443.59999999999997" y2="442.6" stroke="#1a1a1a" stroke-width="1.0" />
<line x1="410.8" y1="436.6" x2="417.6" y2="436.6" stroke="#1a1a1a" stroke-width="1.9" />
<line x1="413.40000000000003" y1="439.6" x2="417.6" y2="439.6" stroke="#1a1a1a" stroke-width="1.0" />
<line x1="413.40000000000003" y1="442.6" x2="417.6" y2="442.6" stroke="#1a1a1a" stroke-width="1.0" />
<line x1="426.0" y1="445.5" x2="432.8" y2="445.5" stroke="#1a1a1a" stroke-width="1.9" />
<line x1="439.59999999999997" y1="445.5" x2="446.2" y2="445.5" stroke="#1a1a1a" stroke-width="1.9" />
<line x1="428.59999999999997" y1="448.5" x2="432.8" y2="448.5" stroke="#1a1a1a" stroke-width="1.0" />
<line x1="439.59999999999997" y1="448.5" x2="443.59999999999997" y2="448.5" stroke="#1a1a1a" stroke-width="1.0" />
<line x1="428.59999999999997" y1="451.5" x2="432.8" y2="451.5" stroke="#1a1a1a" stroke-width="1.0" />
<line x1="439.59999999999997" y1="451.5" x2="443.59999999999997" y2="451.5" stroke="#1a1a1a" stroke-width="1.0" />
<line x1="410.8" y1="445.5" x2="417.6" y2="445.5" stroke="#1a1a1a" stroke-width="1.9" />
<line x1="413.40000000000003" y1="448.5" x2="417.6" y2="448.5" stroke="#1a1a1a" stroke-width="1.0" />
<line x1="413.40000000000003" y1="451.5" x2="417.6" y2="451.5" stroke="#1a1a1a" stroke-width="1.0" />
<line x1="426.0" y1="454.40000000000003" x2="432.8" y2="454.40000000000003" stroke="#1a1a1a" stroke-width="1.9" />
<line x1="439.59999999999997" y1="454.40000000000003" x2="446.2" y2="454.40000000000003" stroke="#1a1a1a" stroke-width="1.9" />
<line x1="428.59999999999997" y1="457.40000000000003" x2="432.8" y2="457.40000000000003" stroke="#1a1a1a" stroke-width="1.0" />
<line x1="439.59999999999997" y1="457.40000000000003" x2="443.59999999999997" y2="457.40000000000003" stroke="#1a1a1a" stroke-width="1.0" />
<line x1="428.59999999999997" y1="460.40000000000003" x2="432.8" y2="460.40000000000003" stroke="#1a1a1a" stroke-width="1.0" />
<line x1="439.59999999999997" y1="460.40000000000003" x2="443.59999999999997" y2="460.40000000000003" stroke="#1a1a1a" stroke-width="1.0" />
<line x1="410.8" y1="454.40000000000003" x2="417.6" y2="454.40000000000003" stroke="#1a1a1a" stroke-width="1.9" />
<line x1="413.40000000000003" y1="457.40000000000003" x2="417.6" y2="457.40000000000003" stroke="#1a1a1a" stroke-width="1.0" />
<line x1="413.40000000000003" y1="460.40000000000003" x2="417.6" y2="460.40000000000003" stroke="#1a1a1a" stroke-width="1.0" />
<line x1="426.0" y1="463.3" x2="432.8" y2="463.3" stroke="#1a1a1a" stroke-width="1.9" />
<line x1="439.59999999999997" y1="463.3" x2="446.2" y2="463.3" stroke="#1a1a1a" stroke-width="1.9" />
<line x1="428.59999999999997" y1="466.3" x2="432.8" y2="466.3" stroke="#1a1a1a" stroke-width="1.0" />
<line x1="439.59999999999997" y1="466.3" x2="443.59999999999997" y2="466.3" stroke="#1a1a1a" stroke-width="1.0" />
<line x1="428.59999999999997" y1="469.3" x2="432.8" y2="469.3" stroke="#1a1a1a" stroke-width="1.0" />
<line x1="439.59999999999997" y1="469.3" x2="443.59999999999997" y2="469.3" stroke="#1a1a1a" stroke-width="1.0" />
<line x1="410.8" y1="463.3" x2="417.6" y2="463.3" stroke="#1a1a1a" stroke-width="1.9" />
<line x1="413.40000000000003" y1="466.3" x2="417.6" y2="466.3" stroke="#1a1a1a" stroke-width="1.0" />
<line x1="413.40000000000003" y1="469.3" x2="417.6" y2="469.3" stroke="#1a1a1a" stroke-width="1.0" />
<line x1="426.0" y1="472.20000000000005" x2="432.8" y2="472.20000000000005" stroke="#1a1a1a" stroke-width="1.9" />
<line x1="439.59999999999997" y1="472.20000000000005" x2="446.2" y2="472.20000000000005" stroke="#1a1a1a" stroke-width="1.9" />
<line x1="428.59999999999997" y1="475.20000000000005" x2="432.8" y2="475.20000000000005" stroke="#1a1a1a" stroke-width="1.0" />
<line x1="439.59999999999997" y1="475.20000000000005" x2="443.59999999999997" y2="475.20000000000005" stroke="#1a1a1a" stroke-width="1.0" />
<line x1="428.59999999999997" y1="478.20000000000005" x2="432.8" y2="478.20000000000005" stroke="#1a1a1a" stroke-width="1.0" />
<line x1="439.59999999999997" y1="478.20000000000005" x2="443.59999999999997" y2="478.20000000000005" stroke="#1a1a1a" stroke-width="1.0" />
<line x1="410.8" y1="472.20000000000005" x2="417.6" y2="472.20000000000005" stroke="#1a1a1a" stroke-width="1.9" />
<line x1="413.40000000000003" y1="475.20000000000005" x2="417.6" y2="475.20000000000005" stroke="#1a1a1a" stroke-width="1.0" />
<line x1="413.40000000000003" y1="478.20000000000005" x2="417.6" y2="478.20000000000005" stroke="#1a1a1a" stroke-width="1.0" />
<line x1="426.0" y1="481.1" x2="432.8" y2="481.1" stroke="#1a1a1a" stroke-width="1.9" />
<line x1="439.59999999999997" y1="481.1" x2="446.2" y2="481.1" stroke="#1a1a1a" stroke-width="1.9" />
<line x1="428.59999999999997" y1="484.1" x2="432.8" y2="484.1" stroke="#1a1a1a" stroke-width="1.0" />
<line x1="439.59999999999997" y1="484.1" x2="443.59999999999997" y2="484.1" stroke="#1a1a1a" stroke-width="1.0" />
<line x1="428.59999999999997" y1="487.1" x2="432.8" y2="487.1" stroke="#1a1a1a" stroke-width="1.0" />
<line x1="439.59999999999997" y1="487.1" x2="443.59999999999997" y2="487.1" stroke="#1a1a1a" stroke-width="1.0" />
<line x1="410.8" y1="481.1" x2="417.6" y2="481.1" stroke="#1a1a1a" stroke-width="1.9" />
<line x1="413.40000000000003" y1="484.1" x2="417.6" y2="484.1" stroke="#1a1a1a" stroke-width="1.0" />
<line x1="413.40000000000003" y1="487.1" x2="417.6" y2="487.1" stroke="#1a1a1a" stroke-width="1.0" />
<line x1="426.0" y1="490.0" x2="432.8" y2="490.0" stroke="#1a1a1a" stroke-width="1.9" />
<line x1="439.59999999999997" y1="490.0" x2="446.2" y2="490.0" stroke="#1a1a1a" stroke-width="1.9" />
<line x1="428.59999999999997" y1="493.0" x2="432.8" y2="493.0" stroke="#1a1a1a" stroke-width="1.0" />
<line x1="439.59999999999997" y1="493.0" x2="443.59999999999997" y2="493.0" stroke="#1a1a1a" stroke-width="1.0" />
<line x1="428.59999999999997" y1="496.0" x2="432.8" y2="496.0" stroke="#1a1a1a" stroke-width="1.0" />
<line x1="439.59999999999997" y1="496.0" x2="443.59999999999997" y2="496.0" stroke="#1a1a1a" stroke-width="1.0" />
<line x1="410.8" y1="490.0" x2="417.6" y2="490.0" stroke="#1a1a1a" stroke-width="1.9" />
<line x1="413.40000000000003" y1="493.0" x2="417.6" y2="493.0" stroke="#1a1a1a" stroke-width="1.0" />
<line x1="413.40000000000003" y1="496.0" x2="417.6" y2="496.0" stroke="#1a1a1a" stroke-width="1.0" />
<line x1="426.0" y1="498.90000000000003" x2="432.8" y2="498.90000000000003" stroke="#1a1a1a" stroke-width="1.9" />
<line x1="439.59999999999997" y1="498.90000000000003" x2="446.2" y2="498.90000000000003" stroke="#1a1a1a" stroke-width="1.9" />
<line x1="428.59999999999997" y1="501.90000000000003" x2="432.8" y2="501.90000000000003" stroke="#1a1a1a" stroke-width="1.0" />
<line x1="439.59999999999997" y1="501.90000000000003" x2="443.59999999999997" y2="501.90000000000003" stroke="#1a1a1a" stroke-width="1.0" />
<line x1="428.59999999999997" y1="504.90000000000003" x2="432.8" y2="504.90000000000003" stroke="#1a1a1a" stroke-width="1.0" />
<line x1="439.59999999999997" y1="504.90000000000003" x2="443.59999999999997" y2="504.90000000000003" stroke="#1a1a1a" stroke-width="1.0" />
<line x1="410.8" y1="498.90000000000003" x2="417.6" y2="498.90000000000003" stroke="#1a1a1a" stroke-width="1.9" />
<line x1="413.40000000000003" y1="501.90000000000003" x2="417.6" y2="501.90000000000003" stroke="#1a1a1a" stroke-width="1.0" />
<line x1="413.40000000000003" y1="504.90000000000003" x2="417.6" y2="504.90000000000003" stroke="#1a1a1a" stroke-width="1.0" />
<path d="M432.8 513.5 V413 A3.4 3.4 0 0 1 439.59999999999997 413 V513.5 A3.4 3.4 0 0 1 432.8 513.5 Z" fill="#fff" stroke="#1a1a1a" stroke-width="1.9"/>
<path d="M422.09999999999997 458.1 Q424.09999999999997 450.5 436.2 450.5 Q448.3 450.5 450.3 458.1 V469.1 Q448.3 476.70000000000005 436.2 476.70000000000005 Q424.09999999999997 476.70000000000005 422.09999999999997 469.1 Z" fill="#fff" stroke="#1a1a1a" stroke-width="1.8"/>
<rect x="421.09999999999997" y="460.90000000000003" width="30.2" height="5.4" fill="#fff" stroke="#1a1a1a" stroke-width="1.7"/>
<line x1="422.59999999999997" y1="458.20000000000005" x2="449.8" y2="458.20000000000005" stroke="#1a1a1a" stroke-width="1.0" />
<line x1="422.59999999999997" y1="469.0" x2="449.8" y2="469.0" stroke="#1a1a1a" stroke-width="1.0" />
<path d="M422.09999999999997 458.1 V469.1 M450.3 458.1 V469.1" stroke="#1a1a1a" stroke-width="1.8"/>
<text x="436.2" y="523.6" font-family="Liberation Sans" font-size="6.2" font-weight="normal" font-style="normal" text-anchor="middle" fill="#333" >6KHz</text>
<line x1="298" y1="418.8" x2="304.5" y2="418.8" stroke="#1a1a1a" stroke-width="1.9" />
<line x1="315.5" y1="418.8" x2="322" y2="418.8" stroke="#1a1a1a" stroke-width="1.9" />
<line x1="328.8" y1="418.8" x2="336.5" y2="418.8" stroke="#1a1a1a" stroke-width="1.9" />
<line x1="410" y1="418.8" x2="417.6" y2="418.8" stroke="#1a1a1a" stroke-width="1.9" />
<line x1="424" y1="418.8" x2="430.5" y2="418.8" stroke="#1a1a1a" stroke-width="1.9" />
<line x1="442" y1="418.8" x2="448.5" y2="418.8" stroke="#1a1a1a" stroke-width="1.9" />
<line x1="293.40000000000003" y1="418.8" x2="296.2" y2="418.8" stroke="#555" stroke-width="0.7" />
<line x1="294.8" y1="417.4" x2="294.8" y2="420.2" stroke="#555" stroke-width="0.7" />
<line x1="322.90000000000003" y1="418.8" x2="325.7" y2="418.8" stroke="#555" stroke-width="0.7" />
<line x1="324.3" y1="417.4" x2="324.3" y2="420.2" stroke="#555" stroke-width="0.7" />
<line x1="340.5" y1="418.8" x2="343.29999999999995" y2="418.8" stroke="#555" stroke-width="0.7" />
<line x1="341.9" y1="417.4" x2="341.9" y2="420.2" stroke="#555" stroke-width="0.7" />
<line x1="403.20000000000005" y1="418.8" x2="406.0" y2="418.8" stroke="#555" stroke-width="0.7" />
<line x1="404.6" y1="417.4" x2="404.6" y2="420.2" stroke="#555" stroke-width="0.7" />
<line x1="420.40000000000003" y1="418.8" x2="423.2" y2="418.8" stroke="#555" stroke-width="0.7" />
<line x1="421.8" y1="417.4" x2="421.8" y2="420.2" stroke="#555" stroke-width="0.7" />
<line x1="450.1" y1="418.8" x2="452.9" y2="418.8" stroke="#555" stroke-width="0.7" />
<line x1="451.5" y1="417.4" x2="451.5" y2="420.2" stroke="#555" stroke-width="0.7" />
<rect x="341.4" y="463.1" width="1" height="1" fill="#333"/>
<rect x="403.8" y="463.1" width="1" height="1" fill="#333"/>
<line x1="292.5" y1="507.9" x2="344.1" y2="507.9" stroke="#1a1a1a" stroke-width="2.1" stroke-dasharray="4.5 2.3"/>
<line x1="402" y1="507.9" x2="453.6" y2="507.9" stroke="#1a1a1a" stroke-width="2.1" stroke-dasharray="4.5 2.3"/>
<text x="336.8" y="517.4" font-family="Liberation Sans" font-size="6.2" font-weight="normal" font-style="normal" text-anchor="middle" fill="#333" >1KHz</text>
<text x="409.8" y="517.4" font-family="Liberation Sans" font-size="6.2" font-weight="normal" font-style="normal" text-anchor="middle" fill="#333" >4KHz</text>
<text x="353.7" y="518.7" font-family="Liberation Sans" font-size="10.7" font-weight="bold" font-style="normal" text-anchor="start" fill="#222" textLength="39.3" lengthAdjust="spacingAndGlyphs">FADER</text>
<rect x="347.7" y="415.3" width="50.2" height="61.3" rx="1.5" fill="#fff" stroke="#1a1a1a" stroke-width="2.2" />
<path d="M351.4 416.5 V473.5 H395.2 V416.5" fill="none" stroke="#1a1a1a" stroke-width="1.9"/>
<line x1="350.4" y1="416.6" x2="396.2" y2="416.6" stroke="#1a1a1a" stroke-width="3.2" />
<text x="364.6" y="410.6" font-family="Liberation Sans" font-size="7.7" font-weight="bold" font-style="normal" text-anchor="start" fill="#222" textLength="17.4" lengthAdjust="spacingAndGlyphs">OFF</text>
<text x="367" y="487" font-family="Liberation Sans" font-size="7.7" font-weight="bold" font-style="normal" text-anchor="start" fill="#222" textLength="12.3" lengthAdjust="spacingAndGlyphs">ON</text>
<rect x="310.6" y="529.8" width="125.1" height="41.1" rx="5.5" fill="none" stroke="#666" stroke-width="0.9" />
<rect x="329" y="531" width="45" height="6.5" fill="#e6e6e6"/>
<rect x="340" y="563" width="76" height="6.5" fill="#e6e6e6"/>
<rect x="320.3" y="538.7" width="105.4" height="4" rx="2" fill="none" stroke="#555" stroke-width="0.9" />
<rect x="320.3" y="557.6" width="105.4" height="4" rx="2" fill="none" stroke="#555" stroke-width="0.9" />
<text x="315.2" y="542.9" font-family="Liberation Sans" font-size="6.5" font-weight="normal" font-style="normal" text-anchor="middle" fill="#333" >A</text>
<text x="431.3" y="542.9" font-family="Liberation Sans" font-size="6.5" font-weight="normal" font-style="normal" text-anchor="middle" fill="#333" >A</text>
<text x="315.2" y="561.9" font-family="Liberation Sans" font-size="6.5" font-weight="normal" font-style="normal" text-anchor="middle" fill="#333" >B</text>
<text x="431.3" y="561.9" font-family="Liberation Sans" font-size="6.5" font-weight="normal" font-style="normal" text-anchor="middle" fill="#333" >B</text>
<line x1="328.8" y1="550.1" x2="416.8" y2="550.1" stroke="#1a1a1a" stroke-width="1.2" />
<line x1="328.8" y1="546.4" x2="328.8" y2="553.8" stroke="#1a1a1a" stroke-width="1.9" />
<line x1="416.8" y1="546.4" x2="416.8" y2="553.8" stroke="#1a1a1a" stroke-width="1.9" />
<line x1="331.5" y1="547.5" x2="331.5" y2="552.7" stroke="#1a1a1a" stroke-width="0.9" />
<line x1="334.9" y1="548.5" x2="334.9" y2="551.7" stroke="#1a1a1a" stroke-width="0.9" />
<line x1="338.3" y1="547.5" x2="338.3" y2="552.7" stroke="#1a1a1a" stroke-width="0.9" />
<line x1="341.7" y1="548.5" x2="341.7" y2="551.7" stroke="#1a1a1a" stroke-width="0.9" />
<line x1="345.1" y1="547.5" x2="345.1" y2="552.7" stroke="#1a1a1a" stroke-width="0.9" />
<line x1="348.5" y1="548.5" x2="348.5" y2="551.7" stroke="#1a1a1a" stroke-width="0.9" />
<line x1="351.9" y1="547.5" x2="351.9" y2="552.7" stroke="#1a1a1a" stroke-width="0.9" />
<line x1="355.3" y1="548.5" x2="355.3" y2="551.7" stroke="#1a1a1a" stroke-width="0.9" />
<line x1="358.7" y1="547.5" x2="358.7" y2="552.7" stroke="#1a1a1a" stroke-width="0.9" />
<line x1="389.3" y1="548.5" x2="389.3" y2="551.7" stroke="#1a1a1a" stroke-width="0.9" />
<line x1="392.7" y1="547.5" x2="392.7" y2="552.7" stroke="#1a1a1a" stroke-width="0.9" />
<line x1="396.1" y1="548.5" x2="396.1" y2="551.7" stroke="#1a1a1a" stroke-width="0.9" />
<line x1="399.5" y1="547.5" x2="399.5" y2="552.7" stroke="#1a1a1a" stroke-width="0.9" />
<line x1="402.9" y1="548.5" x2="402.9" y2="551.7" stroke="#1a1a1a" stroke-width="0.9" />
<line x1="406.3" y1="547.5" x2="406.3" y2="552.7" stroke="#1a1a1a" stroke-width="0.9" />
<line x1="409.7" y1="548.5" x2="409.7" y2="551.7" stroke="#1a1a1a" stroke-width="0.9" />
<line x1="413.1" y1="547.5" x2="413.1" y2="552.7" stroke="#1a1a1a" stroke-width="0.9" />
<line x1="416.5" y1="548.5" x2="416.5" y2="551.7" stroke="#1a1a1a" stroke-width="0.9" />
<line x1="331.0" y1="535.5999999999999" x2="331.0" y2="537.8" stroke="#1a1a1a" stroke-width="1.2" />
<line x1="334.6" y1="534.5999999999999" x2="334.6" y2="537.8" stroke="#1a1a1a" stroke-width="1.2" />
<line x1="338.2" y1="535.5999999999999" x2="338.2" y2="537.8" stroke="#1a1a1a" stroke-width="1.2" />
<line x1="341.8" y1="533.5999999999999" x2="341.8" y2="537.8" stroke="#1a1a1a" stroke-width="1.2" />
<line x1="345.4" y1="535.5999999999999" x2="345.4" y2="537.8" stroke="#1a1a1a" stroke-width="1.2" />
<line x1="349.0" y1="534.5999999999999" x2="349.0" y2="537.8" stroke="#1a1a1a" stroke-width="1.2" />
<line x1="352.6" y1="535.5999999999999" x2="352.6" y2="537.8" stroke="#1a1a1a" stroke-width="1.2" />
<line x1="356.2" y1="533.5999999999999" x2="356.2" y2="537.8" stroke="#1a1a1a" stroke-width="1.2" />
<line x1="388.6" y1="535.5999999999999" x2="388.6" y2="537.8" stroke="#1a1a1a" stroke-width="1.2" />
<line x1="392.2" y1="534.5999999999999" x2="392.2" y2="537.8" stroke="#1a1a1a" stroke-width="1.2" />
<line x1="395.8" y1="535.5999999999999" x2="395.8" y2="537.8" stroke="#1a1a1a" stroke-width="1.2" />
<line x1="399.4" y1="533.5999999999999" x2="399.4" y2="537.8" stroke="#1a1a1a" stroke-width="1.2" />
<line x1="342.0" y1="562.8" x2="342.0" y2="565.3" stroke="#1a1a1a" stroke-width="1.3" />
<line x1="345.4" y1="562.8" x2="345.4" y2="566.3" stroke="#1a1a1a" stroke-width="1.3" />
<line x1="348.8" y1="562.8" x2="348.8" y2="565.3" stroke="#1a1a1a" stroke-width="1.3" />
<line x1="352.2" y1="562.8" x2="352.2" y2="567.8" stroke="#1a1a1a" stroke-width="1.3" />
<line x1="355.6" y1="562.8" x2="355.6" y2="565.3" stroke="#1a1a1a" stroke-width="1.3" />
<line x1="359.0" y1="562.8" x2="359.0" y2="566.3" stroke="#1a1a1a" stroke-width="1.3" />
<line x1="389.6" y1="562.8" x2="389.6" y2="565.3" stroke="#1a1a1a" stroke-width="1.3" />
<line x1="393.0" y1="562.8" x2="393.0" y2="567.8" stroke="#1a1a1a" stroke-width="1.3" />
<line x1="396.4" y1="562.8" x2="396.4" y2="565.3" stroke="#1a1a1a" stroke-width="1.3" />
<line x1="399.8" y1="562.8" x2="399.8" y2="566.3" stroke="#1a1a1a" stroke-width="1.3" />
<line x1="403.2" y1="562.8" x2="403.2" y2="565.3" stroke="#1a1a1a" stroke-width="1.3" />
<line x1="406.6" y1="562.8" x2="406.6" y2="567.8" stroke="#1a1a1a" stroke-width="1.3" />
<line x1="410.0" y1="562.8" x2="410.0" y2="565.3" stroke="#1a1a1a" stroke-width="1.3" />
<line x1="413.4" y1="562.8" x2="413.4" y2="566.3" stroke="#1a1a1a" stroke-width="1.3" />
<line x1="416.8" y1="562.8" x2="416.8" y2="565.3" stroke="#1a1a1a" stroke-width="1.3" />
<line x1="420.2" y1="562.8" x2="420.2" y2="567.8" stroke="#1a1a1a" stroke-width="1.3" />
<line x1="335" y1="569.2" x2="345" y2="569.2" stroke="#1a1a1a" stroke-width="1.2" />
<line x1="373.4" y1="529.8" x2="373.4" y2="536" stroke="#1a1a1a" stroke-width="1.6" />
<ellipse cx="373.4" cy="550" rx="13.3" ry="15.3" fill="#fff" stroke="#1a1a1a" stroke-width="1.8"/>
<rect x="371" y="535.4" width="4.8" height="29.2" fill="#1a1a1a"/>
<rect x="366.6" y="535.8" width="4.4" height="28.6" fill="#fff" stroke="#1a1a1a" stroke-width="1.1"/>
<rect x="375.8" y="535.8" width="4.4" height="28.6" fill="#fff" stroke="#1a1a1a" stroke-width="1.1"/>
<rect x="484.5" y="208.3" width="146" height="17.6" rx="8.8" fill="#2f2f2f"/>
<rect x="490.5" y="209.3" width="134" height="3" rx="1.5" fill="#3a3a3a"/>
<ellipse cx="506.2" cy="217.60000000000002" rx="11.6" ry="6.7" fill="#666" stroke="#9c9c9c" stroke-width="0.9"/>
<ellipse cx="506.2" cy="217.10000000000002" rx="8.6" ry="5.0" fill="#b8b8b8"/>
<ellipse cx="505.2" cy="216.10000000000002" rx="5" ry="2.6" fill="#cfcfcf"/>
<ellipse cx="608.6" cy="217.60000000000002" rx="11.6" ry="6.7" fill="#666" stroke="#9c9c9c" stroke-width="0.9"/>
<ellipse cx="608.6" cy="217.10000000000002" rx="8.6" ry="5.0" fill="#b8b8b8"/>
<ellipse cx="607.6" cy="216.10000000000002" rx="5" ry="2.6" fill="#cfcfcf"/>
<path d="M520.8 222.60000000000002 L525.0 212.10000000000002 H536.5 L532.3 222.60000000000002 Z" fill="#9a9a9a"/>
<path d="M524.1 220.9 L526.7 213.9 H533.8 L531.2 220.9 Z" fill="#3a3a3a"/>
<path d="M527.1 216.5 H532.5 M526.1 218.70000000000002 H531.5" stroke="#9a9a9a" stroke-width="1"/>
<text x="536.5" y="221.0" font-family="Liberation Serif" font-size="9.8" font-style="italic" fill="#a8a8a8" textLength="56" lengthAdjust="spacingAndGlyphs">SYSTEMS</text>
<circle cx="658.4" cy="217.5" r="7.7" fill="none" stroke="#1a1a1a" stroke-width="2.3"/>
<circle cx="658.4" cy="217.5" r="4.3" fill="none" stroke="#1a1a1a" stroke-width="2.4"/>
<path d="M467.1 255.2 H470.1 Q470.70000000000005 255.2 470.90000000000003 253.7 A16.4 16.4 0 0 1 503.3 253.7 Q503.5 255.2 504.1 255.2 H507.1" fill="#fff" stroke="#1a1a1a" stroke-width="2.1"/>
<circle cx="487.1" cy="256.2" r="14" fill="#fff" stroke="#1a1a1a" stroke-width="1.9"/>
<circle cx="487.1" cy="256.2" r="9.2" fill="none" stroke="#1a1a1a" stroke-width="4.0"/>
<path d="M484.8 244.89999999999998 H489.40000000000003 L488.1 255.7 H486.1 Z" fill="#1a1a1a"/>
<rect x="516.9" y="262.6" width="50.2" height="6.8" rx="1.5" fill="#fff" stroke="#1a1a1a" stroke-width="2.1" />
<rect x="573.6" y="255.5" width="26.5" height="11.5" rx="0.8" fill="#fff" stroke="#1a1a1a" stroke-width="1.8" />
<circle cx="616.8" cy="262.7" r="6.9" fill="#fff" stroke="#1a1a1a" stroke-width="1.9"/>
<circle cx="650.6" cy="256.1" r="11.2" fill="#fff" stroke="#1a1a1a" stroke-width="1.9"/>
<rect x="468.9" y="274.1" width="4.1" height="1.7" fill="#1a1a1a"/>
<text x="476.9" y="277.7" font-family="Liberation Sans" font-size="7.1" font-weight="normal" font-style="normal" text-anchor="start" fill="#333" textLength="20.9" lengthAdjust="spacingAndGlyphs">ECHO</text>
<text x="502.8" y="277.9" font-family="Liberation Sans" font-size="7.6" font-weight="normal" font-style="normal" text-anchor="middle" fill="#333" >+</text>
<text x="534.1" y="278.9" font-family="Liberation Sans" font-size="7.2" font-weight="normal" font-style="normal" text-anchor="start" fill="#333" textLength="10.1" lengthAdjust="spacingAndGlyphs">SD</text>
<path d="M547.2 279 V273.5 L548.7 272.5 H551.2 L553.7 275 V279 M550.2 277.3 L551.2 276.6 V280.5" fill="none" stroke="#333" stroke-width="0.9"/>
<text x="587" y="278.5" font-family="Liberation Sans" font-size="7.4" font-weight="normal" font-style="normal" text-anchor="middle" fill="#333" >USB</text>
<text x="617" y="278.5" font-family="Liberation Sans" font-size="7.4" font-weight="normal" font-style="normal" text-anchor="middle" fill="#333" >LINE</text>
<text x="650.6" y="278.5" font-family="Liberation Sans" font-size="7.4" font-weight="normal" font-style="normal" text-anchor="middle" fill="#333" >MIC2</text>
<text x="627.4" y="287.5" font-family="Liberation Sans" font-size="4.5" font-weight="normal" font-style="normal" text-anchor="start" fill="#222" textLength="33.4" lengthAdjust="spacingAndGlyphs">TWS Long Press</text>
<rect x="518.3000000000001" y="290.8" width="29.8" height="28.3" rx="6" fill="#fff" stroke="#1a1a1a" stroke-width="2.2" />
<rect x="521.4000000000001" y="293.9" width="23.6" height="22.1" rx="3.5" fill="none" stroke="#1a1a1a" stroke-width="1.3" />
<text x="524.0" y="303.59999999999997" font-family="Liberation Sans" font-size="5.8" font-weight="bold" font-style="normal" text-anchor="start" fill="#222" textLength="13" lengthAdjust="spacingAndGlyphs">USB</text>
<line x1="529.6" y1="310.0" x2="541.6" y2="299.8" stroke="#1a1a1a" stroke-width="1.2" />
<text x="535.1" y="311.0" font-family="Liberation Sans" font-size="5.8" font-weight="bold" font-style="normal" text-anchor="start" fill="#222" textLength="7.4" lengthAdjust="spacingAndGlyphs">SD</text>
<rect x="556.5" y="290.8" width="29.8" height="28.3" rx="6" fill="#fff" stroke="#1a1a1a" stroke-width="2.2" />
<rect x="559.6" y="293.9" width="23.6" height="22.1" rx="3.5" fill="none" stroke="#1a1a1a" stroke-width="1.3" />
<text x="565.1999999999999" y="307.3" font-family="Liberation Sans" font-size="6.4" font-weight="bold" font-style="normal" text-anchor="start" fill="#222" textLength="10.2" lengthAdjust="spacingAndGlyphs">BT</text>
<rect x="594.1" y="290.8" width="29.8" height="28.3" rx="6" fill="#fff" stroke="#1a1a1a" stroke-width="2.2" />
<rect x="597.2" y="293.9" width="23.6" height="22.1" rx="3.5" fill="none" stroke="#1a1a1a" stroke-width="1.3" />
<text x="598.9" y="307.3" font-family="Liberation Sans" font-size="6.4" font-weight="bold" font-style="normal" text-anchor="start" fill="#222" textLength="18.1" lengthAdjust="spacingAndGlyphs">LINE</text>
<rect x="630.9" y="290.8" width="29.8" height="28.3" rx="6" fill="#fff" stroke="#1a1a1a" stroke-width="2.2" />
<rect x="634.0" y="293.9" width="23.6" height="22.1" rx="3.5" fill="none" stroke="#1a1a1a" stroke-width="1.3" />
<text x="635.8" y="301.7" font-family="Liberation Sans" font-size="5.8" font-weight="bold" font-style="normal" text-anchor="start" fill="#222" textLength="9.2" lengthAdjust="spacingAndGlyphs">FM</text>
<line x1="638.5999999999999" y1="310.0" x2="651.5999999999999" y2="298.9" stroke="#1a1a1a" stroke-width="1.2" />
<text x="646.0" y="307.59999999999997" font-family="Liberation Sans" font-size="3.9" font-weight="bold" font-style="normal" text-anchor="start" fill="#222" textLength="9" lengthAdjust="spacingAndGlyphs">TWS</text>
<text x="640.5" y="312.8" font-family="Liberation Sans" font-size="4.8" font-weight="bold" font-style="normal" text-anchor="start" fill="#222" textLength="15.7" lengthAdjust="spacingAndGlyphs">SCAN</text>
<rect x="518.3000000000001" y="328.1" width="29.8" height="28.6" rx="6" fill="#fff" stroke="#1a1a1a" stroke-width="2.2" />
<rect x="521.4000000000001" y="331.2" width="23.6" height="22.4" rx="3.5" fill="none" stroke="#1a1a1a" stroke-width="1.3" />
<path d="M524.4000000000001 335v4.4M524.8000000000001 337.2h9" stroke="#1a1a1a" stroke-width="0.9" fill="none"/>
<path d="M525.7 337.2l3.6 -2.2v4.4zM529.4000000000001 337.2l3.6 -2.2v4.4z" fill="#1a1a1a"/>
<line x1="526.4000000000001" y1="345.6" x2="539.7" y2="335.8" stroke="#1a1a1a" stroke-width="1.2" />
<text x="529.6" y="348.9" font-family="Liberation Sans" font-size="4.6" font-weight="bold" font-style="normal" text-anchor="start" fill="#222" textLength="12.9" lengthAdjust="spacingAndGlyphs">VOL-</text>
<rect x="556.5" y="328.1" width="29.8" height="28.6" rx="6" fill="#fff" stroke="#1a1a1a" stroke-width="2.2" />
<rect x="559.6" y="331.2" width="23.6" height="22.4" rx="3.5" fill="none" stroke="#1a1a1a" stroke-width="1.3" />
<path d="M569.1999999999999 339.79999999999995l5.2 2.6 -5.2 2.6z" fill="#1a1a1a"/>
<rect x="594.1" y="328.1" width="29.8" height="28.6" rx="6" fill="#fff" stroke="#1a1a1a" stroke-width="2.2" />
<rect x="597.2" y="331.2" width="23.6" height="22.4" rx="3.5" fill="none" stroke="#1a1a1a" stroke-width="1.3" />
<path d="M607.8 340.0v4.8M610.2 340.0v4.8" stroke="#1a1a1a" stroke-width="0.9"/>
<rect x="630.9" y="328.1" width="29.8" height="28.6" rx="6" fill="#fff" stroke="#1a1a1a" stroke-width="2.2" />
<rect x="634.0" y="331.2" width="23.6" height="22.4" rx="3.5" fill="none" stroke="#1a1a1a" stroke-width="1.3" />
<path d="M645.8 335v4.4M636.5999999999999 337.2h9" stroke="#1a1a1a" stroke-width="0.9" fill="none"/>
<path d="M637.0 335l3.6 2.2 -3.6 2.2zM640.6999999999999 335l3.6 2.2 -3.6 2.2z" fill="#1a1a1a"/>
<line x1="639.0" y1="345.6" x2="652.3" y2="335.8" stroke="#1a1a1a" stroke-width="1.2" />
<text x="642.1999999999999" y="348.9" font-family="Liberation Sans" font-size="4.6" font-weight="bold" font-style="normal" text-anchor="start" fill="#222" textLength="13.2" lengthAdjust="spacingAndGlyphs">VOL+</text>
<line x1="493.4" y1="296.9" x2="501.4" y2="296.9" stroke="#1a1a1a" stroke-width="1.9" />
<line x1="493.4" y1="386.0" x2="501.4" y2="386.0" stroke="#1a1a1a" stroke-width="1.9" />
<line x1="493.4" y1="305.79999999999995" x2="499.2" y2="305.79999999999995" stroke="#1a1a1a" stroke-width="1.8" />
<line x1="493.4" y1="314.7" x2="499.2" y2="314.7" stroke="#1a1a1a" stroke-width="1.8" />
<line x1="493.4" y1="323.59999999999997" x2="499.2" y2="323.59999999999997" stroke="#1a1a1a" stroke-width="1.8" />
<line x1="493.4" y1="359.2" x2="499.2" y2="359.2" stroke="#1a1a1a" stroke-width="1.8" />
<line x1="493.4" y1="368.09999999999997" x2="499.2" y2="368.09999999999997" stroke="#1a1a1a" stroke-width="1.8" />
<line x1="493.4" y1="377.0" x2="499.2" y2="377.0" stroke="#1a1a1a" stroke-width="1.8" />
<line x1="493.4" y1="299.9" x2="496.2" y2="299.9" stroke="#1a1a1a" stroke-width="1.0" />
<line x1="493.4" y1="302.9" x2="496.2" y2="302.9" stroke="#1a1a1a" stroke-width="1.0" />
<line x1="493.4" y1="308.79999999999995" x2="496.2" y2="308.79999999999995" stroke="#1a1a1a" stroke-width="1.0" />
<line x1="493.4" y1="311.79999999999995" x2="496.2" y2="311.79999999999995" stroke="#1a1a1a" stroke-width="1.0" />
<line x1="493.4" y1="317.7" x2="496.2" y2="317.7" stroke="#1a1a1a" stroke-width="1.0" />
<line x1="493.4" y1="320.7" x2="496.2" y2="320.7" stroke="#1a1a1a" stroke-width="1.0" />
<line x1="493.4" y1="326.59999999999997" x2="496.2" y2="326.59999999999997" stroke="#1a1a1a" stroke-width="1.0" />
<line x1="493.4" y1="362.2" x2="496.2" y2="362.2" stroke="#1a1a1a" stroke-width="1.0" />
<line x1="493.4" y1="365.2" x2="496.2" y2="365.2" stroke="#1a1a1a" stroke-width="1.0" />
<line x1="493.4" y1="371.09999999999997" x2="496.2" y2="371.09999999999997" stroke="#1a1a1a" stroke-width="1.0" />
<line x1="493.4" y1="374.09999999999997" x2="496.2" y2="374.09999999999997" stroke="#1a1a1a" stroke-width="1.0" />
<line x1="493.4" y1="380.0" x2="496.2" y2="380.0" stroke="#1a1a1a" stroke-width="1.0" />
<line x1="493.4" y1="383.0" x2="496.2" y2="383.0" stroke="#1a1a1a" stroke-width="1.0" />
<text x="506.2" y="299.4" font-family="Liberation Sans" font-size="5.5" font-weight="normal" font-style="normal" text-anchor="middle" fill="#444" >+</text>
<line x1="504.4" y1="386" x2="507.4" y2="386" stroke="#1a1a1a" stroke-width="1.6" />
<rect x="505.9" y="341.2" width="1" height="1" fill="#333"/>
<path d="M484.2 395.5 V292 A3.2 3.2 0 0 1 490.59999999999997 292 V392.3 A3.2 3.2 0 0 1 484.2 392.3 Z" fill="#fff" stroke="#1a1a1a" stroke-width="1.8"/>
<path d="M472.65 336.8 Q474.65 329.05 487.4 329.05 Q500.15 329.05 502.15 336.8 V347.8 Q500.15 355.55 487.4 355.55 Q474.65 355.55 472.65 347.8 Z" fill="#fff" stroke="#1a1a1a" stroke-width="1.8"/>
<rect x="471.65" y="339.6" width="31.5" height="5.4" fill="#fff" stroke="#1a1a1a" stroke-width="1.7"/>
<line x1="473.15" y1="336.90000000000003" x2="501.65" y2="336.90000000000003" stroke="#1a1a1a" stroke-width="1.0" />
<line x1="473.15" y1="347.7" x2="501.65" y2="347.7" stroke="#1a1a1a" stroke-width="1.0" />
<path d="M472.65 336.8 V347.8 M502.15 336.8 V347.8" stroke="#1a1a1a" stroke-width="1.8"/>
<text x="478.75" y="403.9" font-family="Liberation Sans" font-size="5.9" font-weight="bold" font-style="normal" text-anchor="start" fill="#333" textLength="17.3" lengthAdjust="spacingAndGlyphs">12KHz</text>
<path d="M656.8 382.8 H632.2 Q629.3 382.8 630.6 385.4 A100 100 0 0 1 655.5 411.3 Q659.6 413.2 659.8 409.2 V385.8 Q659.8 382.8 656.8 382.8 Z" fill="#fff" stroke="#1a1a1a" stroke-width="2.1" stroke-linejoin="round"/>
<text x="650.2" y="394.5" font-family="Liberation Sans" font-size="10" font-weight="bold" font-style="normal" text-anchor="middle" fill="#1a1a1a" >B</text>
<path d="M530.66 373.91 A104.5 104.5 0 0 1 617.34 373.91" fill="none" stroke="#1a1a1a" stroke-width="1.7"/>
<path d="M528.39 374.95 L534.14 369.47 L533.85 372.46 L536.29 374.20 Z" fill="#1a1a1a"/>
<path d="M619.61 374.95 L611.71 374.20 L614.15 372.46 L613.86 369.47 Z" fill="#1a1a1a"/>
<circle cx="574" cy="469" r="95.0" fill="none" stroke="#1a1a1a" stroke-width="3.2"/>
<circle cx="574" cy="469" r="90.6" fill="none" stroke="#1a1a1a" stroke-width="3.0"/>
<circle cx="574" cy="469" r="75.9" fill="none" stroke="#1a1a1a" stroke-width="0.8"/>
<path d="M595.00 386.02 A85.6 85.6 0 0 0 553.00 386.02" fill="none" stroke="#1a1a1a" stroke-width="1.9"/>
<path d="M554.92 393.58 A77.8 77.8 0 0 1 593.08 393.58" fill="none" stroke="#1a1a1a" stroke-width="1.0"/>
<path d="M595.22 385.14 L592.96 394.06 M552.78 385.14 L555.04 394.06" stroke="#1a1a1a" stroke-width="2.6"/>
<path d="M593.97 390.09 A81.4 81.4 0 0 0 554.03 390.09" fill="none" stroke="#1a1a1a" stroke-width="2.8"/>
<path d="M542.21 389.52 A85.6 85.6 0 0 0 508.23 414.21" fill="none" stroke="#1a1a1a" stroke-width="1.9"/>
<path d="M514.23 419.20 A77.8 77.8 0 0 1 545.11 396.76" fill="none" stroke="#1a1a1a" stroke-width="1.0"/>
<path d="M541.88 388.69 L545.29 397.23 M507.54 413.63 L514.61 419.52" stroke="#1a1a1a" stroke-width="2.6"/>
<path d="M543.77 393.42 A81.4 81.4 0 0 0 511.46 416.90" fill="none" stroke="#1a1a1a" stroke-width="2.8"/>
<path d="M501.57 423.39 A85.6 85.6 0 0 0 488.59 463.33" fill="none" stroke="#1a1a1a" stroke-width="1.9"/>
<path d="M496.37 463.84 A77.8 77.8 0 0 1 508.17 427.54" fill="none" stroke="#1a1a1a" stroke-width="1.0"/>
<path d="M500.80 422.91 L508.59 427.81 M487.69 463.27 L496.87 463.88" stroke="#1a1a1a" stroke-width="2.6"/>
<path d="M505.12 425.62 A81.4 81.4 0 0 0 492.78 463.61" fill="none" stroke="#1a1a1a" stroke-width="2.8"/>
<path d="M488.59 474.67 A85.6 85.6 0 0 0 501.57 514.61" fill="none" stroke="#1a1a1a" stroke-width="1.9"/>
<path d="M508.17 510.46 A77.8 77.8 0 0 1 496.37 474.16" fill="none" stroke="#1a1a1a" stroke-width="1.0"/>
<path d="M487.69 474.73 L496.87 474.12 M500.80 515.09 L508.59 510.19" stroke="#1a1a1a" stroke-width="2.6"/>
<path d="M492.78 474.39 A81.4 81.4 0 0 0 505.12 512.38" fill="none" stroke="#1a1a1a" stroke-width="2.8"/>
<path d="M508.23 523.79 A85.6 85.6 0 0 0 542.21 548.48" fill="none" stroke="#1a1a1a" stroke-width="1.9"/>
<path d="M545.11 541.24 A77.8 77.8 0 0 1 514.23 518.80" fill="none" stroke="#1a1a1a" stroke-width="1.0"/>
<path d="M507.54 524.37 L514.61 518.48 M541.88 549.31 L545.29 540.77" stroke="#1a1a1a" stroke-width="2.6"/>
<path d="M511.46 521.10 A81.4 81.4 0 0 0 543.77 544.58" fill="none" stroke="#1a1a1a" stroke-width="2.8"/>
<path d="M553.00 551.98 A85.6 85.6 0 0 0 595.00 551.98" fill="none" stroke="#1a1a1a" stroke-width="1.9"/>
<path d="M593.08 544.42 A77.8 77.8 0 0 1 554.92 544.42" fill="none" stroke="#1a1a1a" stroke-width="1.0"/>
<path d="M552.78 552.86 L555.04 543.94 M595.22 552.86 L592.96 543.94" stroke="#1a1a1a" stroke-width="2.6"/>
<path d="M554.03 547.91 A81.4 81.4 0 0 0 593.97 547.91" fill="none" stroke="#1a1a1a" stroke-width="2.8"/>
<path d="M605.79 548.48 A85.6 85.6 0 0 0 639.77 523.79" fill="none" stroke="#1a1a1a" stroke-width="1.9"/>
<path d="M633.77 518.80 A77.8 77.8 0 0 1 602.89 541.24" fill="none" stroke="#1a1a1a" stroke-width="1.0"/>
<path d="M606.12 549.31 L602.71 540.77 M640.46 524.37 L633.39 518.48" stroke="#1a1a1a" stroke-width="2.6"/>
<path d="M604.23 544.58 A81.4 81.4 0 0 0 636.54 521.10" fill="none" stroke="#1a1a1a" stroke-width="2.8"/>
<path d="M646.43 514.61 A85.6 85.6 0 0 0 659.41 474.67" fill="none" stroke="#1a1a1a" stroke-width="1.9"/>
<path d="M651.63 474.16 A77.8 77.8 0 0 1 639.83 510.46" fill="none" stroke="#1a1a1a" stroke-width="1.0"/>
<path d="M647.20 515.09 L639.41 510.19 M660.31 474.73 L651.13 474.12" stroke="#1a1a1a" stroke-width="2.6"/>
<path d="M642.88 512.38 A81.4 81.4 0 0 0 655.22 474.39" fill="none" stroke="#1a1a1a" stroke-width="2.8"/>
<path d="M659.41 463.33 A85.6 85.6 0 0 0 646.43 423.39" fill="none" stroke="#1a1a1a" stroke-width="1.9"/>
<path d="M639.83 427.54 A77.8 77.8 0 0 1 651.63 463.84" fill="none" stroke="#1a1a1a" stroke-width="1.0"/>
<path d="M660.31 463.27 L651.13 463.88 M647.20 422.91 L639.41 427.81" stroke="#1a1a1a" stroke-width="2.6"/>
<path d="M655.22 463.61 A81.4 81.4 0 0 0 642.88 425.62" fill="none" stroke="#1a1a1a" stroke-width="2.8"/>
<path d="M639.77 414.21 A85.6 85.6 0 0 0 605.79 389.52" fill="none" stroke="#1a1a1a" stroke-width="1.9"/>
<path d="M602.89 396.76 A77.8 77.8 0 0 1 633.77 419.20" fill="none" stroke="#1a1a1a" stroke-width="1.0"/>
<path d="M640.46 413.63 L633.39 419.52 M606.12 388.69 L602.71 397.23" stroke="#1a1a1a" stroke-width="2.6"/>
<path d="M636.54 416.90 A81.4 81.4 0 0 0 604.23 393.42" fill="none" stroke="#1a1a1a" stroke-width="2.8"/>
<rect x="503.8" y="467.7" width="14" height="2.6" rx="0" fill="none" stroke="#1a1a1a" stroke-width="1.0" />
<circle cx="658.6" cy="556.2" r="10.0" fill="none" stroke="#1a1a1a" stroke-width="6.8"/>
<circle cx="658.6" cy="556.2" r="8.8" fill="none" stroke="#fff" stroke-width="0.7" stroke-dasharray="2 1"/>
<circle cx="658.6" cy="556.2" r="4.1" fill="none" stroke="#1a1a1a" stroke-width="1.8"/>
<rect x="520.3" y="563.4" width="5.8" height="1.7" fill="#1a1a1a"/>
<text x="0" y="0" transform="translate(537.5 573.8) rotate(14)" font-family="Liberation Sans" font-size="13" font-weight="bold" font-style="italic" text-anchor="middle" fill="#1a1a1a">B</text>
<text x="0" y="0" transform="translate(553.65 578.60) rotate(12.65)" font-family="Liberation Sans" font-size="12.8" font-weight="normal" font-style="normal" text-anchor="middle" fill="#1a1a1a">V</text>
<text x="0" y="0" transform="translate(563.30 580.30) rotate(7.28)" font-family="Liberation Sans" font-size="12.8" font-weight="normal" font-style="normal" text-anchor="middle" fill="#1a1a1a">O</text>
<text x="0" y="0" transform="translate(572.21 581.04) rotate(2.31)" font-family="Liberation Sans" font-size="12.8" font-weight="normal" font-style="normal" text-anchor="middle" fill="#1a1a1a">L</text>
<text x="0" y="0" transform="translate(580.75 581.04) rotate(-2.39)" font-family="Liberation Sans" font-size="12.8" font-weight="normal" font-style="normal" text-anchor="middle" fill="#1a1a1a">U</text>
<text x="0" y="0" transform="translate(591.13 580.09) rotate(-7.95)" font-family="Liberation Sans" font-size="12.8" font-weight="normal" font-style="normal" text-anchor="middle" fill="#1a1a1a">M</text>
<text x="0" y="0" transform="translate(601.15 578.23) rotate(-13.05)" font-family="Liberation Sans" font-size="12.8" font-weight="normal" font-style="normal" text-anchor="middle" fill="#1a1a1a">E</text>
<text x="630.6" y="568.6" font-family="Liberation Sans" font-size="10.5" font-weight="normal" font-style="normal" text-anchor="middle" fill="#1a1a1a" >+</text>
<path d="M465.2 135.5 V319.7 H479" fill="none" stroke="#858585" stroke-width="1.7"/>
<path d="M486.9 135.5 V247" fill="none" stroke="#858585" stroke-width="1.7"/>
<path d="M541.9 135.5 V262.5" fill="none" stroke="#858585" stroke-width="1.7"/>
<path d="M590 135.5 V255.5" fill="none" stroke="#858585" stroke-width="1.7"/>
<path d="M621 135.5 V261" fill="none" stroke="#858585" stroke-width="1.7"/>
<path d="M653 135.5 V260" fill="none" stroke="#858585" stroke-width="1.7"/>
<path d="M723 241 H533 V302.5" fill="none" stroke="#858585" stroke-width="1.7"/>
<path d="M723 265.6 H572 V299" fill="none" stroke="#858585" stroke-width="1.7"/>
<path d="M723 281.6 H607 V298" fill="none" stroke="#858585" stroke-width="1.7"/>
<path d="M723 304.2 H652" fill="none" stroke="#858585" stroke-width="1.7"/>
<path d="M723 342.9 H652" fill="none" stroke="#858585" stroke-width="1.7"/>
<path d="M723 366.1 H607 V349" fill="none" stroke="#858585" stroke-width="1.7"/>
<path d="M723 382.1 H572 V349" fill="none" stroke="#858585" stroke-width="1.7"/>
<path d="M723 407.1 H533 V346" fill="none" stroke="#858585" stroke-width="1.7"/>
<path d="M583.6 498.7 V626" fill="none" stroke="#858585" stroke-width="1.7"/>
<text x="464" y="132" font-family="Liberation Sans" font-size="12.5" font-weight="normal" font-style="normal" text-anchor="middle" fill="#222" >26</text>
<text x="487.2" y="132" font-family="Liberation Sans" font-size="12.5" font-weight="normal" font-style="normal" text-anchor="middle" fill="#222" >27</text>
<text x="541.3" y="132" font-family="Liberation Sans" font-size="12.5" font-weight="normal" font-style="normal" text-anchor="middle" fill="#222" >28</text>
<text x="586.8" y="132" font-family="Liberation Sans" font-size="12.5" font-weight="normal" font-style="normal" text-anchor="middle" fill="#222" >29</text>
<text x="618.8" y="132" font-family="Liberation Sans" font-size="12.5" font-weight="normal" font-style="normal" text-anchor="middle" fill="#222" >30</text>
<text x="653.2" y="132" font-family="Liberation Sans" font-size="12.5" font-weight="normal" font-style="normal" text-anchor="middle" fill="#222" >31</text>
<text x="735" y="244.9" font-family="Liberation Sans" font-size="12.5" font-weight="normal" font-style="normal" text-anchor="middle" fill="#222" >32</text>
<text x="735" y="269.9" font-family="Liberation Sans" font-size="12.5" font-weight="normal" font-style="normal" text-anchor="middle" fill="#222" >33</text>
<text x="735" y="285.9" font-family="Liberation Sans" font-size="12.5" font-weight="normal" font-style="normal" text-anchor="middle" fill="#222" >34</text>
<text x="735" y="309.0" font-family="Liberation Sans" font-size="12.5" font-weight="normal" font-style="normal" text-anchor="middle" fill="#222" >35</text>
<text x="735" y="348.8" font-family="Liberation Sans" font-size="12.5" font-weight="normal" font-style="normal" text-anchor="middle" fill="#222" >39</text>
<text x="735" y="371.0" font-family="Liberation Sans" font-size="12.5" font-weight="normal" font-style="normal" text-anchor="middle" fill="#222" >38</text>
<text x="735" y="388.0" font-family="Liberation Sans" font-size="12.5" font-weight="normal" font-style="normal" text-anchor="middle" fill="#222" >37</text>
<text x="735" y="412.3" font-family="Liberation Sans" font-size="12.5" font-weight="normal" font-style="normal" text-anchor="middle" fill="#222" >36</text>
<text x="582.4" y="637.7" font-family="Liberation Sans" font-size="12.5" font-weight="normal" font-style="normal" text-anchor="middle" fill="#222" >25</text>
<rect x="513.8" y="133.2" width="1.1" height="3" fill="#333"/>
<rect x="68.7" y="531.8" width="3.2" height="1.2" fill="#222"/>
<text x="226.5" y="795.8" font-family="Liberation Sans" font-size="16" font-weight="normal" font-style="normal" text-anchor="start" fill="#222" letter-spacing="1.6">/SD</text>
<text x="394.1" y="1166.2" font-family="Liberation Sans" font-size="20.6" font-weight="normal" font-style="normal" text-anchor="middle" fill="#222" >4</text>
</svg>
</body></html>
